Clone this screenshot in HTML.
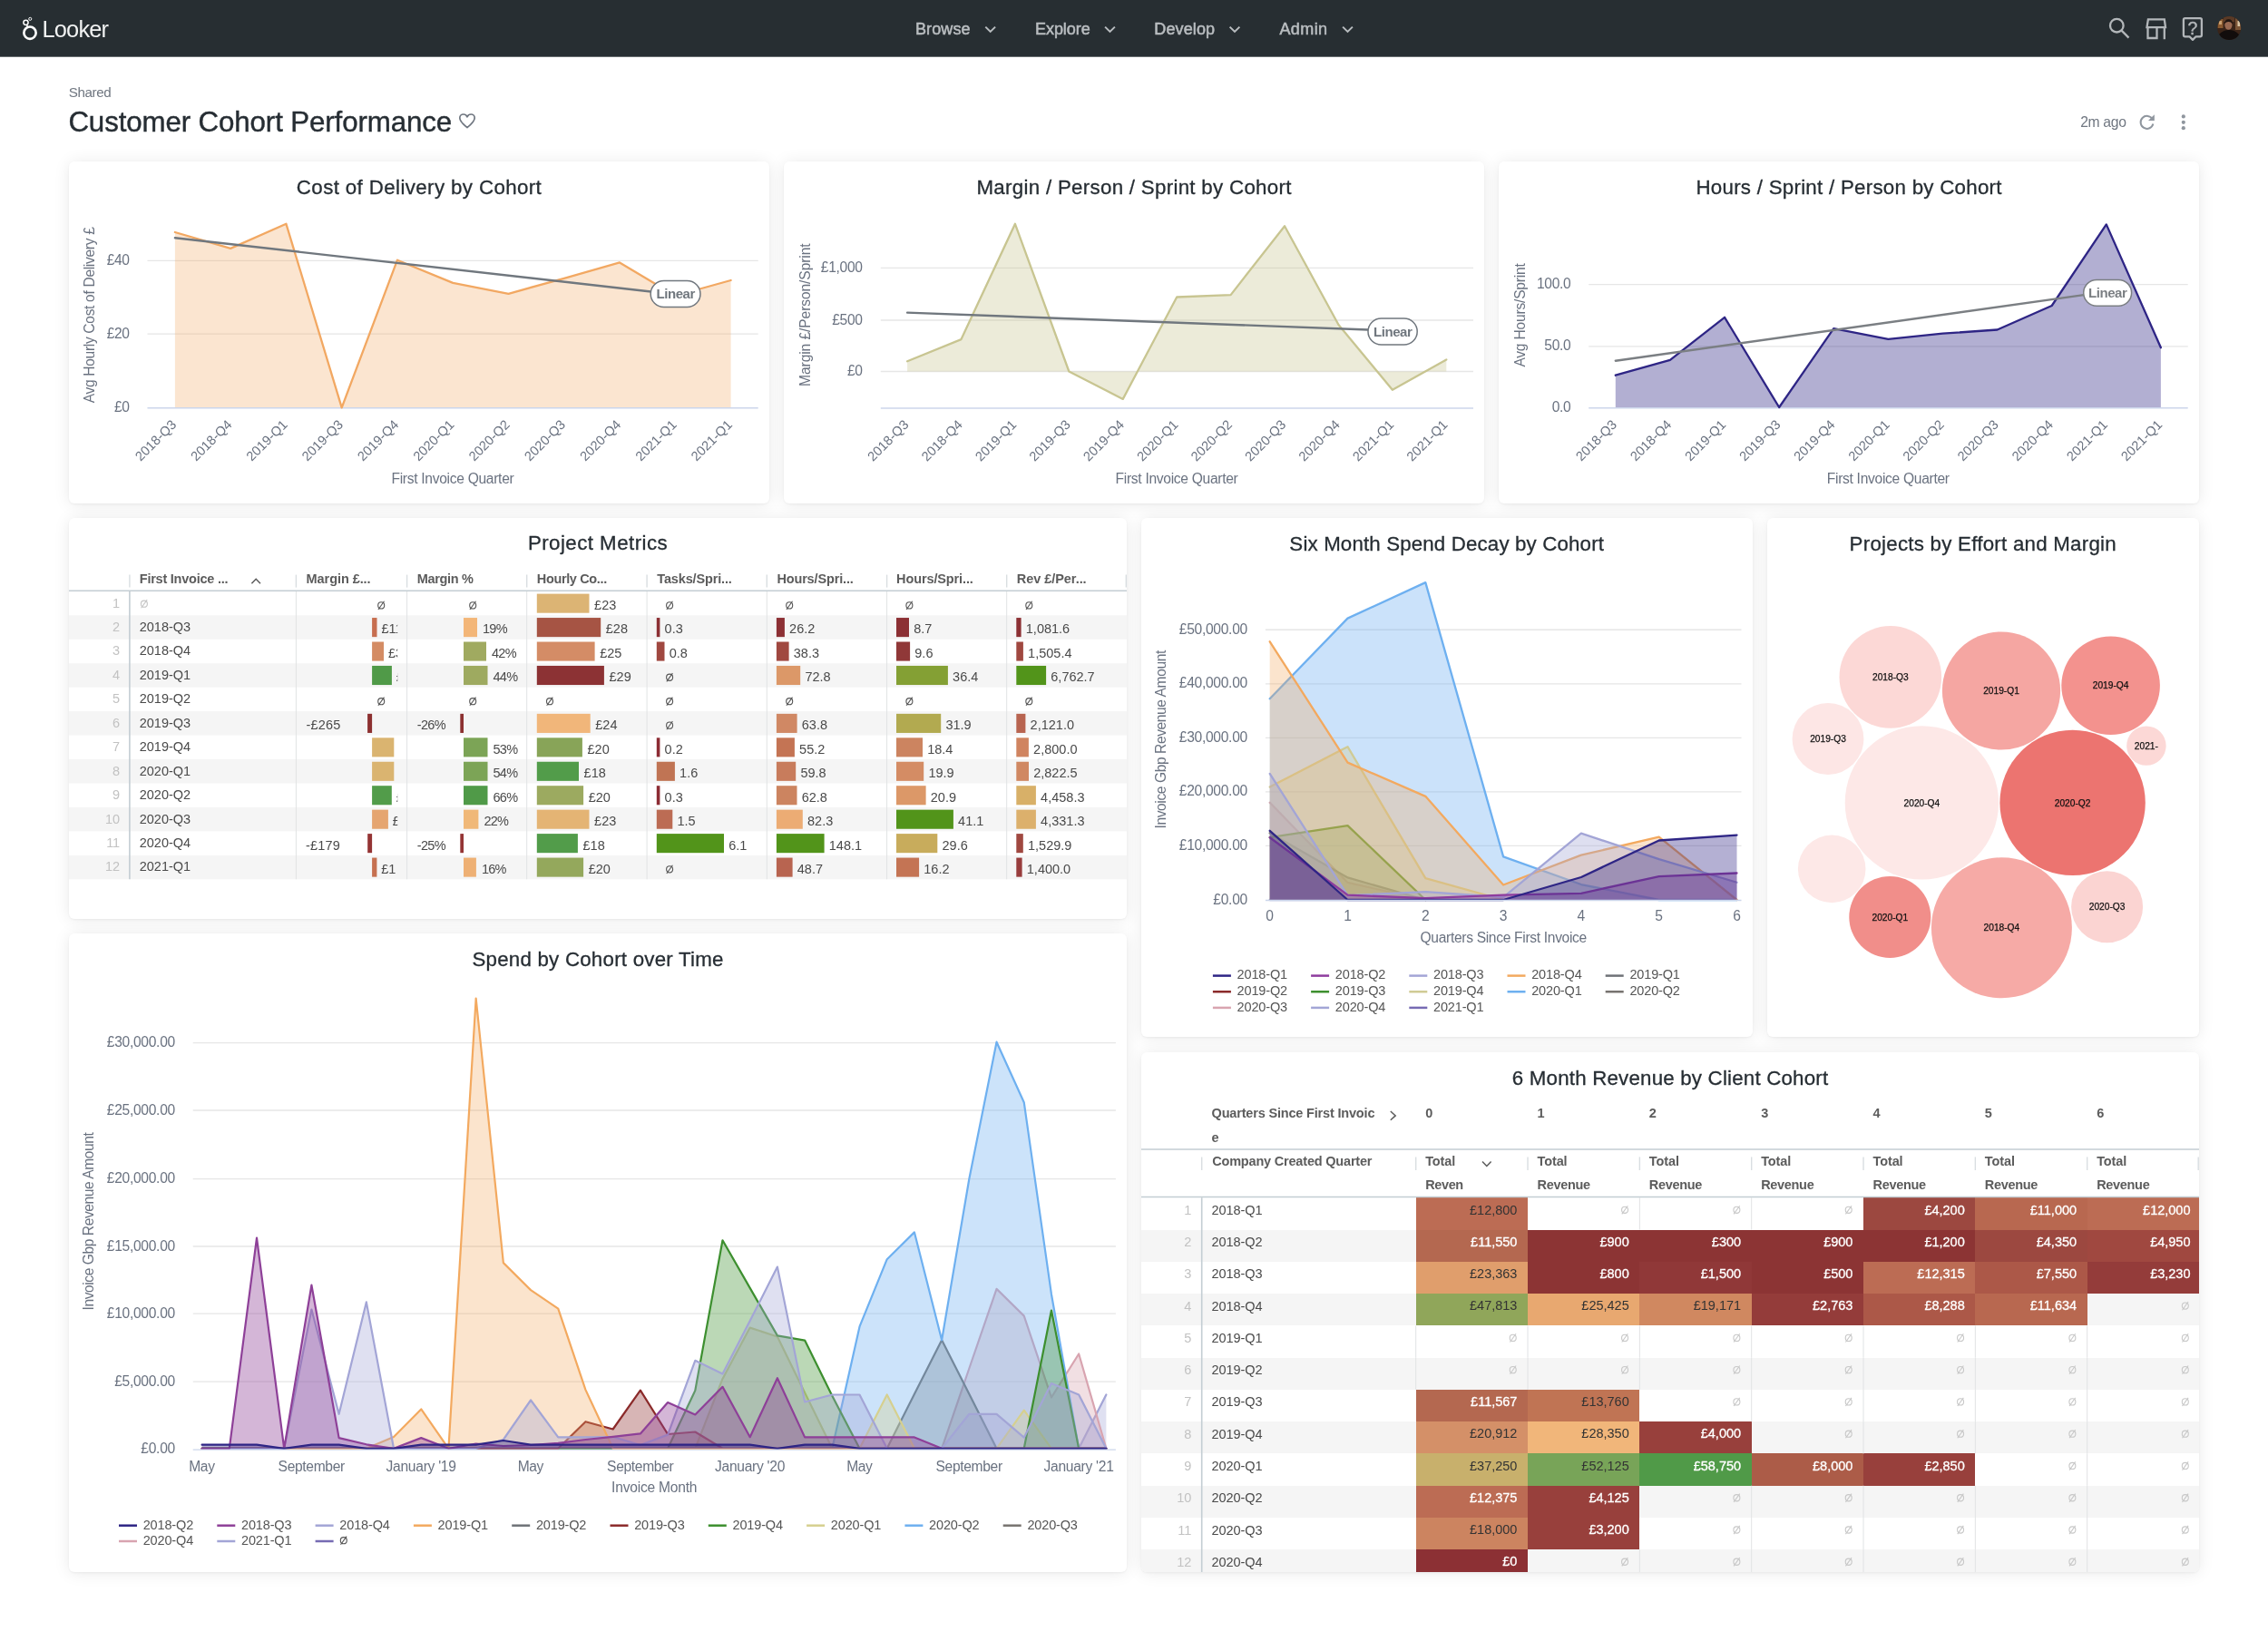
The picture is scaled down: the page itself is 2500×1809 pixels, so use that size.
<!DOCTYPE html>
<html lang="en"><head><meta charset="utf-8"><title>Customer Cohort Performance</title>
<style>
*{box-sizing:border-box}
html,body{margin:0;padding:0}
body{width:2500px;height:1809px;background:#fff;font-family:"Liberation Sans",sans-serif;position:relative;overflow:hidden;color:#4a4a4a}
svg text{font-family:"Liberation Sans",sans-serif}
.nav{position:absolute;left:0;top:0;width:2500px;height:64px}
.nav svg{position:absolute;left:0;top:0}
.hdr{position:absolute;left:0;top:62px;width:2500px;height:115px}
.hdr svg{position:absolute;left:0;top:0}
.card{position:absolute;background:#fff;border-radius:6px;box-shadow:0 1px 18px rgba(0,0,0,.085),0 1px 3px rgba(0,0,0,.06);overflow:hidden}
.cv{position:absolute;left:0;top:0;display:block}
svg{will-change:transform}
.abs{position:absolute}
</style></head>
<body>
<header class="nav"><svg width="2500" height="64" viewBox="0 0 2500 64"><rect x="0" y="0" width="2500" height="62.7" fill="#272e32"/><g fill="none" stroke="#fff"><circle cx="33" cy="36.2" r="6.65" stroke-width="2.6"/><circle cx="28.5" cy="24.8" r="2.6" stroke-width="1.5"/><circle cx="33.25" cy="20.85" r="1.55" stroke-width="0.95"/><path d="M29.5 27.3 L30.7 30.2" stroke-width="1.5"/></g><text x="46.4" y="40.6" font-size="25.4" fill="#f1f2f2" letter-spacing="-0.79">Looker</text><text x="1009" y="38" font-size="18" fill="#b9bdc0" letter-spacing="0.11" stroke="#b9bdc0" stroke-width="0.55">Browse</text><polyline points="1086.3,29.6 1091.7,34.9 1097.1,29.6" fill="none" stroke="#b9bdc0" stroke-width="2"/><text x="1141" y="38" font-size="18" fill="#b9bdc0" letter-spacing="-0.06" stroke="#b9bdc0" stroke-width="0.55">Explore</text><polyline points="1218.1,29.6 1223.5,34.9 1228.9,29.6" fill="none" stroke="#b9bdc0" stroke-width="2"/><text x="1272.3" y="38" font-size="18" fill="#b9bdc0" letter-spacing="0.12" stroke="#b9bdc0" stroke-width="0.55">Develop</text><polyline points="1355.6,29.6 1361,34.9 1366.4,29.6" fill="none" stroke="#b9bdc0" stroke-width="2"/><text x="1410.4" y="38" font-size="18" fill="#b9bdc0" letter-spacing="0.42" stroke="#b9bdc0" stroke-width="0.55">Admin</text><polyline points="1480.1,29.6 1485.5,34.9 1490.9,29.6" fill="none" stroke="#b9bdc0" stroke-width="2"/><g fill="none" stroke="#b3b7ba" stroke-width="2.3"><circle cx="2333.3" cy="28.2" r="7.3"/><path d="M2338.6 33.6 L2346.5 41.6"/><path d="M2367.9 21.3 H2385.8 L2387 30.1 H2366.5 Z"/><path d="M2367.5 31 V42 H2377.5 V31 M2385.8 31 V43.2"/><path d="M2408.6 20.2 H2425.2 Q2426.9 20.2 2426.9 21.9 V38.6 Q2426.9 40.3 2425.2 40.3 H2420.6 L2417 43.9 L2413.4 40.3 H2408.6 Q2406.9 40.3 2406.9 38.6 V21.9 Q2406.9 20.2 2408.6 20.2 Z" stroke-linejoin="round"/></g><text x="2417" y="37.7" font-size="19.5" fill="#b3b7ba" text-anchor="middle" stroke="#b3b7ba" stroke-width="0.35">?</text><defs><clipPath id="avc"><circle cx="2457.2" cy="31" r="13"/></clipPath></defs><g clip-path="url(#avc)"><rect x="2444" y="18" width="27" height="27" fill="#3a2418"/><rect x="2444.5" y="21" width="6" height="10" fill="#8a5a30"/><rect x="2464" y="20" width="7" height="13" fill="#7a5436"/><rect x="2446" y="23" width="3" height="4" fill="#c9a070"/><rect x="2466.5" y="23" width="2.6" height="6" fill="#d8c4a4"/><rect x="2451" y="18" width="12" height="6" fill="#5a3a26"/><ellipse cx="2457" cy="43.5" rx="12.5" ry="10.5" fill="#120d0c"/><ellipse cx="2456.4" cy="27.6" rx="4.1" ry="5.2" fill="#9a6a52"/><path d="M2452.2 26 Q2452.4 21 2456.6 21.2 Q2461 21.2 2460.8 26.4 Q2459 23.8 2456.6 24 Q2454 23.8 2452.2 26Z" fill="#1e1410"/></g></svg></header>
<div class="hdr"><svg width="2500" height="115" viewBox="0 62 2500 115"><text x="75.8" y="107" font-size="15.2" fill="#707781" letter-spacing="-0.4">Shared</text><text x="75.4" y="144.9" font-size="31.3" fill="#262d33" letter-spacing="-0.13" stroke="#262d33" stroke-width="0.4">Customer Cohort Performance</text><path d="M515 140.6 C509 135.8 506.8 133 506.8 130 C506.8 127.6 508.6 126 510.8 126 C512.6 126 514.2 127 515 128.8 C515.8 127 517.4 126 519.2 126 C521.4 126 523.2 127.6 523.2 130 C523.2 133 521 135.8 515 140.6 Z" fill="none" stroke="#707781" stroke-width="1.7" stroke-linejoin="round"/><text x="2293.2" y="139.8" font-size="15.7" fill="#707781" letter-spacing="-0.33">2m ago</text><path d="M2372.6 131.2 A7 7 0 1 0 2373.4 136.6" fill="none" stroke="#8f969e" stroke-width="2"/><path d="M2374.8 126.2 V133 H2368 Z" fill="#8f969e"/><circle cx="2406.8" cy="128.4" r="2.1" fill="#8f969e"/><circle cx="2406.8" cy="134.8" r="2.1" fill="#8f969e"/><circle cx="2406.8" cy="141.2" r="2.1" fill="#8f969e"/></svg></div>
<section class="card " style="left:75.5px;top:177.5px;width:772.5px;height:377.5px"><svg class="cv" style="left:-0.5px;top:-0.5px" width="773" height="378" viewBox="75 177 773 378"><text x="462.04" y="213.8" font-size="22.3" fill="#262d33" text-anchor="middle" letter-spacing="0.39" stroke="#262d33" stroke-width="0.3">Cost of Delivery by Cohort</text><line x1="162.5" x2="835.7" y1="287.3" y2="287.3" stroke="#e6e6e6" stroke-width="1.3"/><line x1="162.5" x2="835.7" y1="368.2" y2="368.2" stroke="#e6e6e6" stroke-width="1.3"/><polygon points="192.9,449.8 192.9,256 254.17,273.9 315.44,246.8 376.71,449.3 437.98,286.7 499.25,311.9 560.52,323.8 621.79,306.8 683.06,289.4 744.33,326 805.6,309 805.6,449.8" fill="#f2a862" fill-opacity="0.3"/><line x1="162.5" x2="835.7" y1="449.8" y2="449.8" stroke="#ccd6eb" stroke-width="1.5"/><polyline points="192.9,256 254.17,273.9 315.44,246.8 376.71,449.3 437.98,286.7 499.25,311.9 560.52,323.8 621.79,306.8 683.06,289.4 744.33,326 805.6,309" fill="none" stroke="#f2a862" stroke-width="2.3" stroke-linejoin="round" stroke-linecap="round"/><line x1="192.9" y1="262.2" x2="717.5" y2="321.5" stroke="#70777e" stroke-width="2.4" stroke-linecap="round"/><rect x="717.2" y="309.4" width="54.8" height="29.2" rx="14.6" fill="#fff" stroke="#70777e" stroke-width="1.5"/><text x="744.68" y="329.4" font-size="15" fill="#70777e" text-anchor="middle" font-weight="bold" letter-spacing="-0.44">Linear</text><text x="142.67" y="291.9" font-size="15.6" fill="#6a7280" text-anchor="end" letter-spacing="-0.33">£40</text><text x="142.67" y="372.8" font-size="15.6" fill="#6a7280" text-anchor="end" letter-spacing="-0.33">£20</text><text x="142.67" y="454.4" font-size="15.6" fill="#6a7280" text-anchor="end" letter-spacing="-0.33">£0</text><text x="103.63" y="347.4" font-size="15.6" fill="#6a7280" text-anchor="middle" letter-spacing="-0.33" transform="rotate(-90 103.63 347.4)">Avg Hourly Cost of Delivery £</text><text x="195.2" y="468.9" font-size="14.6" fill="#6a7280" text-anchor="end" transform="rotate(-45 195.2 468.9)">2018-Q3</text><text x="256.47" y="468.9" font-size="14.6" fill="#6a7280" text-anchor="end" transform="rotate(-45 256.47 468.9)">2018-Q4</text><text x="317.74" y="468.9" font-size="14.6" fill="#6a7280" text-anchor="end" transform="rotate(-45 317.74 468.9)">2019-Q1</text><text x="379.01" y="468.9" font-size="14.6" fill="#6a7280" text-anchor="end" transform="rotate(-45 379.01 468.9)">2019-Q3</text><text x="440.28" y="468.9" font-size="14.6" fill="#6a7280" text-anchor="end" transform="rotate(-45 440.28 468.9)">2019-Q4</text><text x="501.55" y="468.9" font-size="14.6" fill="#6a7280" text-anchor="end" transform="rotate(-45 501.55 468.9)">2020-Q1</text><text x="562.82" y="468.9" font-size="14.6" fill="#6a7280" text-anchor="end" transform="rotate(-45 562.82 468.9)">2020-Q2</text><text x="624.09" y="468.9" font-size="14.6" fill="#6a7280" text-anchor="end" transform="rotate(-45 624.09 468.9)">2020-Q3</text><text x="685.36" y="468.9" font-size="14.6" fill="#6a7280" text-anchor="end" transform="rotate(-45 685.36 468.9)">2020-Q4</text><text x="746.63" y="468.9" font-size="14.6" fill="#6a7280" text-anchor="end" transform="rotate(-45 746.63 468.9)">2021-Q1</text><text x="807.9" y="468.9" font-size="14.6" fill="#6a7280" text-anchor="end" transform="rotate(-45 807.9 468.9)">2021-Q1</text><text x="498.95" y="532.6" font-size="15.6" fill="#6a7280" text-anchor="middle" letter-spacing="-0.3">First Invoice Quarter</text></svg></section>
<section class="card " style="left:863.5px;top:177.5px;width:772.5px;height:377.5px"><svg class="cv" style="left:-0.5px;top:-0.5px" width="773" height="378" viewBox="863 177 773 378"><text x="1250.1" y="213.8" font-size="22.3" fill="#262d33" text-anchor="middle" letter-spacing="0.3" stroke="#262d33" stroke-width="0.3">Margin / Person / Sprint by Cohort</text><line x1="970.8" x2="1624" y1="295.3" y2="295.3" stroke="#e6e6e6" stroke-width="1.3"/><line x1="970.8" x2="1624" y1="353" y2="353" stroke="#e6e6e6" stroke-width="1.3"/><line x1="970.8" x2="1624" y1="409.5" y2="409.5" stroke="#e6e6e6" stroke-width="1.3"/><polygon points="1000.1,409.5 1000.1,398.2 1059.52,374.1 1118.94,246.8 1178.36,409.5 1237.78,439.9 1297.2,327.5 1356.62,325.1 1416.04,249.2 1475.46,358 1534.88,429.8 1594.3,396.4 1594.3,409.5" fill="#c8c591" fill-opacity="0.34"/><line x1="970.8" x2="1624" y1="450" y2="450" stroke="#ccd6eb" stroke-width="1.5"/><polyline points="1000.1,398.2 1059.52,374.1 1118.94,246.8 1178.36,409.5 1237.78,439.9 1297.2,327.5 1356.62,325.1 1416.04,249.2 1475.46,358 1534.88,429.8 1594.3,396.4" fill="none" stroke="#c8c591" stroke-width="2.3" stroke-linejoin="round" stroke-linecap="round"/><line x1="1000.1" y1="344.6" x2="1508" y2="363.5" stroke="#70777e" stroke-width="2.4" stroke-linecap="round"/><rect x="1508" y="351" width="54.2" height="29.1" rx="14.55" fill="#fff" stroke="#70777e" stroke-width="1.5"/><text x="1535.18" y="370.95" font-size="15" fill="#70777e" text-anchor="middle" font-weight="bold" letter-spacing="-0.44">Linear</text><text x="950.69" y="299.9" font-size="15.6" fill="#6a7280" text-anchor="end" letter-spacing="-0.31">£1,000</text><text x="950.67" y="357.6" font-size="15.6" fill="#6a7280" text-anchor="end" letter-spacing="-0.33">£500</text><text x="950.67" y="414.1" font-size="15.6" fill="#6a7280" text-anchor="end" letter-spacing="-0.33">£0</text><text x="893.26" y="347.2" font-size="15.6" fill="#6a7280" text-anchor="middle" letter-spacing="-0.09" transform="rotate(-90 893.26 347.2)">Margin £/Person/Sprint</text><text x="1002.4" y="469.1" font-size="14.6" fill="#6a7280" text-anchor="end" transform="rotate(-45 1002.4 469.1)">2018-Q3</text><text x="1061.82" y="469.1" font-size="14.6" fill="#6a7280" text-anchor="end" transform="rotate(-45 1061.82 469.1)">2018-Q4</text><text x="1121.24" y="469.1" font-size="14.6" fill="#6a7280" text-anchor="end" transform="rotate(-45 1121.24 469.1)">2019-Q1</text><text x="1180.66" y="469.1" font-size="14.6" fill="#6a7280" text-anchor="end" transform="rotate(-45 1180.66 469.1)">2019-Q3</text><text x="1240.08" y="469.1" font-size="14.6" fill="#6a7280" text-anchor="end" transform="rotate(-45 1240.08 469.1)">2019-Q4</text><text x="1299.5" y="469.1" font-size="14.6" fill="#6a7280" text-anchor="end" transform="rotate(-45 1299.5 469.1)">2020-Q1</text><text x="1358.92" y="469.1" font-size="14.6" fill="#6a7280" text-anchor="end" transform="rotate(-45 1358.92 469.1)">2020-Q2</text><text x="1418.34" y="469.1" font-size="14.6" fill="#6a7280" text-anchor="end" transform="rotate(-45 1418.34 469.1)">2020-Q3</text><text x="1477.76" y="469.1" font-size="14.6" fill="#6a7280" text-anchor="end" transform="rotate(-45 1477.76 469.1)">2020-Q4</text><text x="1537.18" y="469.1" font-size="14.6" fill="#6a7280" text-anchor="end" transform="rotate(-45 1537.18 469.1)">2021-Q1</text><text x="1596.6" y="469.1" font-size="14.6" fill="#6a7280" text-anchor="end" transform="rotate(-45 1596.6 469.1)">2021-Q1</text><text x="1297.05" y="532.6" font-size="15.6" fill="#6a7280" text-anchor="middle" letter-spacing="-0.3">First Invoice Quarter</text></svg></section>
<section class="card " style="left:1651.5px;top:177.5px;width:772.5px;height:377.5px"><svg class="cv" style="left:-0.5px;top:-0.5px" width="773" height="378" viewBox="1651 177 773 378"><text x="2038.08" y="213.8" font-size="22.3" fill="#262d33" text-anchor="middle" letter-spacing="0.27" stroke="#262d33" stroke-width="0.3">Hours / Sprint / Person by Cohort</text><line x1="1751.2" x2="2411.7" y1="313.7" y2="313.7" stroke="#e6e6e6" stroke-width="1.3"/><line x1="1751.2" x2="2411.7" y1="381.8" y2="381.8" stroke="#e6e6e6" stroke-width="1.3"/><polygon points="1780.8,449.8 1780.8,413.7 1840.91,396.9 1901.02,349.8 1961.13,449 2021.24,362.2 2081.35,373.9 2141.46,367.7 2201.57,363.5 2261.68,337 2321.79,247.4 2381.9,383.2 2381.9,449.8" fill="#2e2585" fill-opacity="0.37"/><line x1="1751.2" x2="2411.7" y1="449.8" y2="449.8" stroke="#ccd6eb" stroke-width="1.5"/><polyline points="1780.8,413.7 1840.91,396.9 1901.02,349.8 1961.13,449 2021.24,362.2 2081.35,373.9 2141.46,367.7 2201.57,363.5 2261.68,337 2321.79,247.4 2381.9,383.2" fill="none" stroke="#2e2585" stroke-width="2.3" stroke-linejoin="round" stroke-linecap="round"/><line x1="1780.8" y1="397.7" x2="2297" y2="325.1" stroke="#7b7f83" stroke-width="2.4" stroke-linecap="round"/><rect x="2296.7" y="308.4" width="52.9" height="28.8" rx="14.4" fill="#fff" stroke="#7b7f83" stroke-width="1.5"/><text x="2323.23" y="328.2" font-size="15" fill="#7b7f83" text-anchor="middle" font-weight="bold" letter-spacing="-0.44">Linear</text><text x="1731.5" y="318.3" font-size="15.6" fill="#6a7280" text-anchor="end" letter-spacing="-0.3">100.0</text><text x="1731.51" y="386.4" font-size="15.6" fill="#6a7280" text-anchor="end" letter-spacing="-0.29">50.0</text><text x="1731.52" y="454.4" font-size="15.6" fill="#6a7280" text-anchor="end" letter-spacing="-0.28">0.0</text><text x="1681.2" y="347.5" font-size="15.6" fill="#6a7280" text-anchor="middle" letter-spacing="-0.21" transform="rotate(-90 1681.2 347.5)">Avg Hours/Sprint</text><text x="1783.1" y="468.9" font-size="14.6" fill="#6a7280" text-anchor="end" transform="rotate(-45 1783.1 468.9)">2018-Q3</text><text x="1843.21" y="468.9" font-size="14.6" fill="#6a7280" text-anchor="end" transform="rotate(-45 1843.21 468.9)">2018-Q4</text><text x="1903.32" y="468.9" font-size="14.6" fill="#6a7280" text-anchor="end" transform="rotate(-45 1903.32 468.9)">2019-Q1</text><text x="1963.43" y="468.9" font-size="14.6" fill="#6a7280" text-anchor="end" transform="rotate(-45 1963.43 468.9)">2019-Q3</text><text x="2023.54" y="468.9" font-size="14.6" fill="#6a7280" text-anchor="end" transform="rotate(-45 2023.54 468.9)">2019-Q4</text><text x="2083.65" y="468.9" font-size="14.6" fill="#6a7280" text-anchor="end" transform="rotate(-45 2083.65 468.9)">2020-Q1</text><text x="2143.76" y="468.9" font-size="14.6" fill="#6a7280" text-anchor="end" transform="rotate(-45 2143.76 468.9)">2020-Q2</text><text x="2203.87" y="468.9" font-size="14.6" fill="#6a7280" text-anchor="end" transform="rotate(-45 2203.87 468.9)">2020-Q3</text><text x="2263.98" y="468.9" font-size="14.6" fill="#6a7280" text-anchor="end" transform="rotate(-45 2263.98 468.9)">2020-Q4</text><text x="2324.09" y="468.9" font-size="14.6" fill="#6a7280" text-anchor="end" transform="rotate(-45 2324.09 468.9)">2021-Q1</text><text x="2384.2" y="468.9" font-size="14.6" fill="#6a7280" text-anchor="end" transform="rotate(-45 2384.2 468.9)">2021-Q1</text><text x="2081.25" y="532.6" font-size="15.6" fill="#6a7280" text-anchor="middle" letter-spacing="-0.3">First Invoice Quarter</text></svg></section>
<section class="card " style="left:75.5px;top:570.5px;width:1166.5px;height:442.5px"><svg class="cv" style="left:-0.5px;top:-0.5px" width="1167" height="443" viewBox="75 570 1167 443"><text x="659.02" y="606.3" font-size="22.3" fill="#262d33" text-anchor="middle" letter-spacing="0.45" stroke="#262d33" stroke-width="0.3">Project Metrics</text><rect x="75.5" y="678.35" width="1166.5" height="26.45" fill="#f5f5f5"/><rect x="75.5" y="731.25" width="1166.5" height="26.45" fill="#f5f5f5"/><rect x="75.5" y="784.15" width="1166.5" height="26.45" fill="#f5f5f5"/><rect x="75.5" y="837.05" width="1166.5" height="26.45" fill="#f5f5f5"/><rect x="75.5" y="889.95" width="1166.5" height="26.45" fill="#f5f5f5"/><rect x="75.5" y="942.85" width="1166.5" height="26.45" fill="#f5f5f5"/><line x1="326.4" x2="326.4" y1="651.9" y2="969.3" stroke="#e1e3e4" stroke-width="1"/><line x1="448.6" x2="448.6" y1="651.9" y2="969.3" stroke="#e1e3e4" stroke-width="1"/><line x1="580.7" x2="580.7" y1="651.9" y2="969.3" stroke="#e1e3e4" stroke-width="1"/><line x1="713.1" x2="713.1" y1="651.9" y2="969.3" stroke="#e1e3e4" stroke-width="1"/><line x1="845.3" x2="845.3" y1="651.9" y2="969.3" stroke="#e1e3e4" stroke-width="1"/><line x1="977.6" x2="977.6" y1="651.9" y2="969.3" stroke="#e1e3e4" stroke-width="1"/><line x1="1109.7" x2="1109.7" y1="651.9" y2="969.3" stroke="#e1e3e4" stroke-width="1"/><line x1="142.9" x2="142.9" y1="651.9" y2="969.3" stroke="#c3cdd3" stroke-width="1.6"/><line x1="142.9" x2="142.9" y1="633.6" y2="647.6" stroke="#d9dee1" stroke-width="1.4"/><line x1="326.4" x2="326.4" y1="633.6" y2="647.6" stroke="#d9dee1" stroke-width="1.4"/><line x1="448.6" x2="448.6" y1="633.6" y2="647.6" stroke="#d9dee1" stroke-width="1.4"/><line x1="580.7" x2="580.7" y1="633.6" y2="647.6" stroke="#d9dee1" stroke-width="1.4"/><line x1="713.1" x2="713.1" y1="633.6" y2="647.6" stroke="#d9dee1" stroke-width="1.4"/><line x1="845.3" x2="845.3" y1="633.6" y2="647.6" stroke="#d9dee1" stroke-width="1.4"/><line x1="977.6" x2="977.6" y1="633.6" y2="647.6" stroke="#d9dee1" stroke-width="1.4"/><line x1="1109.7" x2="1109.7" y1="633.6" y2="647.6" stroke="#d9dee1" stroke-width="1.4"/><line x1="1241.3" x2="1241.3" y1="633.6" y2="647.6" stroke="#d9dee1" stroke-width="1.4"/><line x1="75.5" x2="1242" y1="651.3" y2="651.3" stroke="#c3cdd3" stroke-width="1.5"/><text x="153.8" y="642.7" font-size="14.5" fill="#5c5c5c" font-weight="bold" letter-spacing="-0.24">First Invoice ...</text><text x="337.6" y="642.7" font-size="14.5" fill="#5c5c5c" font-weight="bold" letter-spacing="-0.07">Margin £...</text><text x="459.7" y="642.7" font-size="14.5" fill="#5c5c5c" font-weight="bold" letter-spacing="-0.32">Margin %</text><text x="591.8" y="642.7" font-size="14.5" fill="#5c5c5c" font-weight="bold" letter-spacing="-0.36">Hourly Co...</text><text x="724.3" y="642.7" font-size="14.5" fill="#5c5c5c" font-weight="bold" letter-spacing="-0.15">Tasks/Spri...</text><text x="856.4" y="642.7" font-size="14.5" fill="#5c5c5c" font-weight="bold" letter-spacing="-0.15">Hours/Spri...</text><text x="988.1" y="642.7" font-size="14.5" fill="#5c5c5c" font-weight="bold" letter-spacing="-0.12">Hours/Spri...</text><text x="1120.8" y="642.7" font-size="14.5" fill="#5c5c5c" font-weight="bold" letter-spacing="-0.05">Rev £/Per...</text><polyline points="277.4,643.2 282.2,638.3 287,643.2" fill="none" stroke="#5c5c5c" stroke-width="1.5"/><defs><clipPath id="pmclip"><rect x="326.9" y="640" width="111.3" height="340"/></clipPath></defs><text x="132.2" y="669.5" font-size="14.5" fill="#c2c2c2" text-anchor="end">1</text><g stroke="#c6c6c6" stroke-width="1.1" fill="none"><ellipse cx="158.9" cy="665.7" rx="3.5" ry="3.6"/><line x1="155.6" y1="670.3" x2="162.2" y2="661.1"/></g><text x="132.2" y="695.95" font-size="14.5" fill="#c2c2c2" text-anchor="end">2</text><text x="153.8" y="695.95" font-size="14.5" fill="#4a4a4a" letter-spacing="-0.03">2018-Q3</text><text x="132.2" y="722.4" font-size="14.5" fill="#c2c2c2" text-anchor="end">3</text><text x="153.8" y="722.4" font-size="14.5" fill="#4a4a4a" letter-spacing="-0.03">2018-Q4</text><text x="132.2" y="748.85" font-size="14.5" fill="#c2c2c2" text-anchor="end">4</text><text x="153.8" y="748.85" font-size="14.5" fill="#4a4a4a" letter-spacing="-0.03">2019-Q1</text><text x="132.2" y="775.3" font-size="14.5" fill="#c2c2c2" text-anchor="end">5</text><text x="153.8" y="775.3" font-size="14.5" fill="#4a4a4a" letter-spacing="-0.03">2019-Q2</text><text x="132.2" y="801.75" font-size="14.5" fill="#c2c2c2" text-anchor="end">6</text><text x="153.8" y="801.75" font-size="14.5" fill="#4a4a4a" letter-spacing="-0.03">2019-Q3</text><text x="132.2" y="828.2" font-size="14.5" fill="#c2c2c2" text-anchor="end">7</text><text x="153.8" y="828.2" font-size="14.5" fill="#4a4a4a" letter-spacing="-0.03">2019-Q4</text><text x="132.2" y="854.65" font-size="14.5" fill="#c2c2c2" text-anchor="end">8</text><text x="153.8" y="854.65" font-size="14.5" fill="#4a4a4a" letter-spacing="-0.03">2020-Q1</text><text x="132.2" y="881.1" font-size="14.5" fill="#c2c2c2" text-anchor="end">9</text><text x="153.8" y="881.1" font-size="14.5" fill="#4a4a4a" letter-spacing="-0.03">2020-Q2</text><text x="132.2" y="907.55" font-size="14.5" fill="#c2c2c2" text-anchor="end">10</text><text x="153.8" y="907.55" font-size="14.5" fill="#4a4a4a" letter-spacing="-0.03">2020-Q3</text><text x="132.2" y="934" font-size="14.5" fill="#c2c2c2" text-anchor="end">11</text><text x="153.8" y="934" font-size="14.5" fill="#4a4a4a" letter-spacing="-0.03">2020-Q4</text><text x="132.2" y="960.45" font-size="14.5" fill="#c2c2c2" text-anchor="end">12</text><text x="153.8" y="960.45" font-size="14.5" fill="#4a4a4a" letter-spacing="-0.03">2021-Q1</text><g clip-path="url(#pmclip)"><g stroke="#555" stroke-width="1.1" fill="none"><ellipse cx="420.2" cy="667.4" rx="3.5" ry="3.6"/><line x1="416.9" y1="672" x2="423.5" y2="662.8"/></g><rect x="410.1" y="681.05" width="5.4" height="21.1" fill="#c76e50"/><text x="420.4" y="698.45" font-size="14.5" fill="#4a4a4a">£113</text><rect x="410.1" y="707.5" width="12.9" height="21.1" fill="#d48c64"/><text x="427.9" y="724.9" font-size="14.5" fill="#4a4a4a">£310</text><rect x="410.1" y="733.95" width="21.8" height="21.1" fill="#509a48"/><text x="436.8" y="751.35" font-size="14.5" fill="#4a4a4a">£765</text><g stroke="#555" stroke-width="1.1" fill="none"><ellipse cx="420.2" cy="773.2" rx="3.5" ry="3.6"/><line x1="416.9" y1="777.8" x2="423.5" y2="768.6"/></g><rect x="405.1" y="786.85" width="5" height="21.1" fill="#8c3030"/><text x="337.6" y="804.25" font-size="14.5" fill="#4a4a4a" letter-spacing="0.18">-£265</text><rect x="410.1" y="813.3" width="24.2" height="21.1" fill="#dab470"/><text x="439.2" y="830.7" font-size="14.5" fill="#4a4a4a">£841</text><rect x="410.1" y="839.75" width="24.2" height="21.1" fill="#dab470"/><text x="439.2" y="857.15" font-size="14.5" fill="#4a4a4a">£852</text><rect x="410.1" y="866.2" width="21.7" height="21.1" fill="#529c4a"/><text x="436.7" y="883.6" font-size="14.5" fill="#4a4a4a">£755</text><rect x="410.1" y="892.65" width="17.8" height="21.1" fill="#e5a570"/><text x="432.8" y="910.05" font-size="14.5" fill="#4a4a4a">£620</text><rect x="405.2" y="919.1" width="4.9" height="21.1" fill="#943434"/><text x="337.1" y="936.5" font-size="14.5" fill="#4a4a4a" letter-spacing="0.18">-£179</text><rect x="410.1" y="945.55" width="5.3" height="21.1" fill="#c67050"/><text x="420.3" y="962.95" font-size="14.5" fill="#4a4a4a">£1 </text></g><g stroke="#555" stroke-width="1.1" fill="none"><ellipse cx="521.2" cy="667.4" rx="3.5" ry="3.6"/><line x1="517.9" y1="672" x2="524.5" y2="662.8"/></g><rect x="511" y="681.05" width="15" height="21.1" fill="#f3b678"/><text x="532" y="698.45" font-size="14.5" fill="#4a4a4a" letter-spacing="-0.74">19%</text><rect x="511" y="707.5" width="25" height="21.1" fill="#a0aa60"/><text x="542" y="724.9" font-size="14.5" fill="#4a4a4a" letter-spacing="-0.74">42%</text><rect x="511" y="733.95" width="26.5" height="21.1" fill="#9eaa60"/><text x="543.5" y="751.35" font-size="14.5" fill="#4a4a4a" letter-spacing="-0.74">44%</text><g stroke="#555" stroke-width="1.1" fill="none"><ellipse cx="521.2" cy="773.2" rx="3.5" ry="3.6"/><line x1="517.9" y1="777.8" x2="524.5" y2="768.6"/></g><rect x="507.3" y="786.85" width="3.7" height="21.1" fill="#8c3030"/><text x="459.7" y="804.25" font-size="14.5" fill="#4a4a4a" letter-spacing="-0.61">-26%</text><rect x="511" y="813.3" width="26.5" height="21.1" fill="#7ca456"/><text x="543.5" y="830.7" font-size="14.5" fill="#4a4a4a" letter-spacing="-0.74">53%</text><rect x="511" y="839.75" width="26.5" height="21.1" fill="#7ca456"/><text x="543.5" y="857.15" font-size="14.5" fill="#4a4a4a" letter-spacing="-0.74">54%</text><rect x="511" y="866.2" width="26.5" height="21.1" fill="#509a48"/><text x="543.5" y="883.6" font-size="14.5" fill="#4a4a4a" letter-spacing="-0.74">66%</text><rect x="511" y="892.65" width="16.4" height="21.1" fill="#f0b878"/><text x="533.4" y="910.05" font-size="14.5" fill="#4a4a4a" letter-spacing="-0.74">22%</text><rect x="507.3" y="919.1" width="3.7" height="21.1" fill="#943434"/><text x="459.7" y="936.5" font-size="14.5" fill="#4a4a4a" letter-spacing="-0.61">-25%</text><rect x="511" y="945.55" width="13.9" height="21.1" fill="#eeb074"/><text x="530.9" y="962.95" font-size="14.5" fill="#4a4a4a" letter-spacing="-0.74">16%</text><rect x="591.8" y="654.6" width="57.7" height="21.1" fill="#dcb474"/><text x="655.1" y="672" font-size="14.5" fill="#4a4a4a">£23</text><rect x="591.8" y="681.05" width="70.4" height="21.1" fill="#a65444"/><text x="667.8" y="698.45" font-size="14.5" fill="#4a4a4a">£28</text><rect x="591.8" y="707.5" width="63.8" height="21.1" fill="#d48c66"/><text x="661.2" y="724.9" font-size="14.5" fill="#4a4a4a">£25</text><rect x="591.8" y="733.95" width="74.1" height="21.1" fill="#8c3234"/><text x="671.5" y="751.35" font-size="14.5" fill="#4a4a4a">£29</text><g stroke="#555" stroke-width="1.1" fill="none"><ellipse cx="606" cy="773.2" rx="3.5" ry="3.6"/><line x1="602.7" y1="777.8" x2="609.3" y2="768.6"/></g><rect x="591.8" y="786.85" width="58.9" height="21.1" fill="#f1b67a"/><text x="656.3" y="804.25" font-size="14.5" fill="#4a4a4a">£24</text><rect x="591.8" y="813.3" width="50.1" height="21.1" fill="#88a458"/><text x="647.5" y="830.7" font-size="14.5" fill="#4a4a4a">£20</text><rect x="591.8" y="839.75" width="46.2" height="21.1" fill="#529c4a"/><text x="643.6" y="857.15" font-size="14.5" fill="#4a4a4a">£18</text><rect x="591.8" y="866.2" width="51.3" height="21.1" fill="#9caa60"/><text x="648.7" y="883.6" font-size="14.5" fill="#4a4a4a">£20</text><rect x="591.8" y="892.65" width="57.7" height="21.1" fill="#e4b474"/><text x="655.1" y="910.05" font-size="14.5" fill="#4a4a4a">£23</text><rect x="591.8" y="919.1" width="45.1" height="21.1" fill="#529c4a"/><text x="642.5" y="936.5" font-size="14.5" fill="#4a4a4a">£18</text><rect x="591.8" y="945.55" width="51.3" height="21.1" fill="#94a85c"/><text x="648.7" y="962.95" font-size="14.5" fill="#4a4a4a">£20</text><g stroke="#555" stroke-width="1.1" fill="none"><ellipse cx="738.1" cy="667.4" rx="3.5" ry="3.6"/><line x1="734.8" y1="672" x2="741.4" y2="662.8"/></g><rect x="723.8" y="681.05" width="3.6" height="21.1" fill="#8c3034"/><text x="732.6" y="698.45" font-size="14.5" fill="#4a4a4a">0.3</text><rect x="723.8" y="707.5" width="8.7" height="21.1" fill="#a04840"/><text x="737.7" y="724.9" font-size="14.5" fill="#4a4a4a">0.8</text><g stroke="#555" stroke-width="1.1" fill="none"><ellipse cx="738.1" cy="746.75" rx="3.5" ry="3.6"/><line x1="734.8" y1="751.35" x2="741.4" y2="742.15"/></g><g stroke="#555" stroke-width="1.1" fill="none"><ellipse cx="738.1" cy="773.2" rx="3.5" ry="3.6"/><line x1="734.8" y1="777.8" x2="741.4" y2="768.6"/></g><g stroke="#555" stroke-width="1.1" fill="none"><ellipse cx="738.1" cy="799.65" rx="3.5" ry="3.6"/><line x1="734.8" y1="804.25" x2="741.4" y2="795.05"/></g><rect x="723.8" y="813.3" width="3.6" height="21.1" fill="#8c2c34"/><text x="732.6" y="830.7" font-size="14.5" fill="#4a4a4a">0.2</text><rect x="723.8" y="839.75" width="20.1" height="21.1" fill="#c07454"/><text x="749.1" y="857.15" font-size="14.5" fill="#4a4a4a">1.6</text><rect x="723.8" y="866.2" width="3.6" height="21.1" fill="#8c2c34"/><text x="732.6" y="883.6" font-size="14.5" fill="#4a4a4a">0.3</text><rect x="723.8" y="892.65" width="17.5" height="21.1" fill="#bc6c54"/><text x="746.5" y="910.05" font-size="14.5" fill="#4a4a4a">1.5</text><rect x="723.8" y="919.1" width="74.2" height="21.1" fill="#52941a"/><text x="803.2" y="936.5" font-size="14.5" fill="#4a4a4a">6.1</text><g stroke="#555" stroke-width="1.1" fill="none"><ellipse cx="738.1" cy="958.35" rx="3.5" ry="3.6"/><line x1="734.8" y1="962.95" x2="741.4" y2="953.75"/></g><g stroke="#555" stroke-width="1.1" fill="none"><ellipse cx="870.2" cy="667.4" rx="3.5" ry="3.6"/><line x1="866.9" y1="672" x2="873.5" y2="662.8"/></g><rect x="855.9" y="681.05" width="9" height="21.1" fill="#8c3034"/><text x="870.1" y="698.45" font-size="14.5" fill="#4a4a4a">26.2</text><rect x="855.9" y="707.5" width="13.7" height="21.1" fill="#a04840"/><text x="874.8" y="724.9" font-size="14.5" fill="#4a4a4a">38.3</text><rect x="855.9" y="733.95" width="26.3" height="21.1" fill="#dc9868"/><text x="887.4" y="751.35" font-size="14.5" fill="#4a4a4a">72.8</text><g stroke="#555" stroke-width="1.1" fill="none"><ellipse cx="870.2" cy="773.2" rx="3.5" ry="3.6"/><line x1="866.9" y1="777.8" x2="873.5" y2="768.6"/></g><rect x="855.9" y="786.85" width="22.7" height="21.1" fill="#d08864"/><text x="883.8" y="804.25" font-size="14.5" fill="#4a4a4a">63.8</text><rect x="855.9" y="813.3" width="20" height="21.1" fill="#c47454"/><text x="881.1" y="830.7" font-size="14.5" fill="#4a4a4a">55.2</text><rect x="855.9" y="839.75" width="21.3" height="21.1" fill="#c87c5c"/><text x="882.4" y="857.15" font-size="14.5" fill="#4a4a4a">59.8</text><rect x="855.9" y="866.2" width="22.6" height="21.1" fill="#cc8460"/><text x="883.7" y="883.6" font-size="14.5" fill="#4a4a4a">62.8</text><rect x="855.9" y="892.65" width="28.9" height="21.1" fill="#ecac74"/><text x="890" y="910.05" font-size="14.5" fill="#4a4a4a">82.3</text><rect x="855.9" y="919.1" width="52.7" height="21.1" fill="#52941a"/><text x="913.8" y="936.5" font-size="14.5" fill="#4a4a4a">148.1</text><rect x="855.9" y="945.55" width="17.7" height="21.1" fill="#b86450"/><text x="878.8" y="962.95" font-size="14.5" fill="#4a4a4a">48.7</text><g stroke="#555" stroke-width="1.1" fill="none"><ellipse cx="1002.4" cy="667.4" rx="3.5" ry="3.6"/><line x1="999.1" y1="672" x2="1005.7" y2="662.8"/></g><rect x="988" y="681.05" width="14" height="21.1" fill="#8c3034"/><text x="1007.2" y="698.45" font-size="14.5" fill="#4a4a4a">8.7</text><rect x="988" y="707.5" width="15.1" height="21.1" fill="#903838"/><text x="1008.3" y="724.9" font-size="14.5" fill="#4a4a4a">9.6</text><rect x="988" y="733.95" width="56.9" height="21.1" fill="#84a034"/><text x="1050.1" y="751.35" font-size="14.5" fill="#4a4a4a">36.4</text><g stroke="#555" stroke-width="1.1" fill="none"><ellipse cx="1002.4" cy="773.2" rx="3.5" ry="3.6"/><line x1="999.1" y1="777.8" x2="1005.7" y2="768.6"/></g><rect x="988" y="786.85" width="49.2" height="21.1" fill="#b2aa50"/><text x="1042.4" y="804.25" font-size="14.5" fill="#4a4a4a">31.9</text><rect x="988" y="813.3" width="29" height="21.1" fill="#cc8460"/><text x="1022.2" y="830.7" font-size="14.5" fill="#4a4a4a">18.4</text><rect x="988" y="839.75" width="30.2" height="21.1" fill="#d48c64"/><text x="1023.4" y="857.15" font-size="14.5" fill="#4a4a4a">19.9</text><rect x="988" y="866.2" width="32.6" height="21.1" fill="#dc9868"/><text x="1025.8" y="883.6" font-size="14.5" fill="#4a4a4a">20.9</text><rect x="988" y="892.65" width="62.9" height="21.1" fill="#52941a"/><text x="1056.1" y="910.05" font-size="14.5" fill="#4a4a4a">41.1</text><rect x="988" y="919.1" width="45.3" height="21.1" fill="#c8ac5c"/><text x="1038.5" y="936.5" font-size="14.5" fill="#4a4a4a">29.6</text><rect x="988" y="945.55" width="25.1" height="21.1" fill="#c47454"/><text x="1018.3" y="962.95" font-size="14.5" fill="#4a4a4a">16.2</text><g stroke="#555" stroke-width="1.1" fill="none"><ellipse cx="1134.3" cy="667.4" rx="3.5" ry="3.6"/><line x1="1131" y1="672" x2="1137.6" y2="662.8"/></g><rect x="1120.3" y="681.05" width="5.3" height="21.1" fill="#8c3034"/><text x="1130.8" y="698.45" font-size="14.5" fill="#4a4a4a">1,081.6</text><rect x="1120.3" y="707.5" width="7.6" height="21.1" fill="#a04840"/><text x="1133.1" y="724.9" font-size="14.5" fill="#4a4a4a">1,505.4</text><rect x="1120.3" y="733.95" width="32.8" height="21.1" fill="#52941a"/><text x="1158.3" y="751.35" font-size="14.5" fill="#4a4a4a">6,762.7</text><g stroke="#555" stroke-width="1.1" fill="none"><ellipse cx="1134.3" cy="773.2" rx="3.5" ry="3.6"/><line x1="1131" y1="777.8" x2="1137.6" y2="768.6"/></g><rect x="1120.3" y="786.85" width="10.1" height="21.1" fill="#b86450"/><text x="1135.6" y="804.25" font-size="14.5" fill="#4a4a4a">2,121.0</text><rect x="1120.3" y="813.3" width="13.6" height="21.1" fill="#d08460"/><text x="1139.1" y="830.7" font-size="14.5" fill="#4a4a4a">2,800.0</text><rect x="1120.3" y="839.75" width="13.7" height="21.1" fill="#d08862"/><text x="1139.2" y="857.15" font-size="14.5" fill="#4a4a4a">2,822.5</text><rect x="1120.3" y="866.2" width="21.6" height="21.1" fill="#d8b068"/><text x="1147.1" y="883.6" font-size="14.5" fill="#4a4a4a">4,458.3</text><rect x="1120.3" y="892.65" width="21.6" height="21.1" fill="#dcb06c"/><text x="1147.1" y="910.05" font-size="14.5" fill="#4a4a4a">4,331.3</text><rect x="1120.3" y="919.1" width="7.5" height="21.1" fill="#a04840"/><text x="1133" y="936.5" font-size="14.5" fill="#4a4a4a">1,529.9</text><rect x="1120.3" y="945.55" width="6.3" height="21.1" fill="#983c3c"/><text x="1131.8" y="962.95" font-size="14.5" fill="#4a4a4a">1,400.0</text></svg></section>
<section class="card " style="left:1258px;top:570.5px;width:674px;height:572.5px"><svg class="cv" style="left:0px;top:-0.5px" width="674" height="573" viewBox="1258 570 674 573"><text x="1594.72" y="606.8" font-size="22.3" fill="#262d33" text-anchor="middle" letter-spacing="0.15" stroke="#262d33" stroke-width="0.3">Six Month Spend Decay by Cohort</text><line x1="1394.9" x2="1919.5" y1="932.45" y2="932.45" stroke="#e6e6e6" stroke-width="1.3"/><line x1="1394.9" x2="1919.5" y1="872.9" y2="872.9" stroke="#e6e6e6" stroke-width="1.3"/><line x1="1394.9" x2="1919.5" y1="813.35" y2="813.35" stroke="#e6e6e6" stroke-width="1.3"/><line x1="1394.9" x2="1919.5" y1="753.8" y2="753.8" stroke="#e6e6e6" stroke-width="1.3"/><line x1="1394.9" x2="1919.5" y1="694.25" y2="694.25" stroke="#e6e6e6" stroke-width="1.3"/><text x="1374.9" y="996.5" font-size="15.6" fill="#6a7280" text-anchor="end" letter-spacing="-0.3">£0.00</text><text x="1374.9" y="936.95" font-size="15.6" fill="#6a7280" text-anchor="end" letter-spacing="-0.3">£10,000.00</text><text x="1374.9" y="877.4" font-size="15.6" fill="#6a7280" text-anchor="end" letter-spacing="-0.3">£20,000.00</text><text x="1374.9" y="817.85" font-size="15.6" fill="#6a7280" text-anchor="end" letter-spacing="-0.3">£30,000.00</text><text x="1374.9" y="758.3" font-size="15.6" fill="#6a7280" text-anchor="end" letter-spacing="-0.3">£40,000.00</text><text x="1374.9" y="698.75" font-size="15.6" fill="#6a7280" text-anchor="end" letter-spacing="-0.3">£50,000.00</text><text x="1285.19" y="815.3" font-size="15.6" fill="#6a7280" text-anchor="middle" letter-spacing="-0.42" transform="rotate(-90 1285.19 815.3)">Invoice Gbp Revenue Amount</text><polygon points="1399.7,992 1399.7,992 1485.5,992 1485.5,992" fill="#a3a5d6" fill-opacity="0.36"/><polyline points="1399.7,992 1485.5,992" fill="none" stroke="#a3a5d6" stroke-width="2.3" stroke-linejoin="round" stroke-linecap="round"/><polygon points="1399.7,992 1399.7,884.81 1485.5,972.94 1571.3,992 1571.3,992" fill="#d8a4b0" fill-opacity="0.36"/><polyline points="1399.7,884.81 1485.5,972.94 1571.3,992" fill="none" stroke="#d8a4b0" stroke-width="2.3" stroke-linejoin="round" stroke-linecap="round"/><polygon points="1399.7,992 1399.7,918.31 1485.5,967.44 1571.3,992 1571.3,992" fill="#77736f" fill-opacity="0.36"/><polyline points="1399.7,918.31 1485.5,967.44 1571.3,992" fill="none" stroke="#77736f" stroke-width="2.3" stroke-linejoin="round" stroke-linecap="round"/><polygon points="1399.7,992 1399.7,770.18 1485.5,681.6 1571.3,642.14 1657.1,944.36 1742.9,975.03 1828.7,992 1914.5,992 1914.5,992" fill="#6eb0f0" fill-opacity="0.36"/><polyline points="1399.7,770.18 1485.5,681.6 1571.3,642.14 1657.1,944.36 1742.9,975.03 1828.7,992 1914.5,992" fill="none" stroke="#6eb0f0" stroke-width="2.3" stroke-linejoin="round" stroke-linecap="round"/><polygon points="1399.7,992 1399.7,867.47 1485.5,823.18 1571.3,968.18 1657.1,992 1657.1,992" fill="#d0cb95" fill-opacity="0.36"/><polyline points="1399.7,867.47 1485.5,823.18 1571.3,968.18 1657.1,992" fill="none" stroke="#d0cb95" stroke-width="2.3" stroke-linejoin="round" stroke-linecap="round"/><polygon points="1399.7,992 1399.7,923.12 1485.5,910.06 1571.3,992 1571.3,992" fill="#6ea046" fill-opacity="0.27"/><polyline points="1399.7,923.12 1485.5,910.06 1571.3,992" fill="none" stroke="#6ea046" stroke-width="2.3" stroke-linejoin="round" stroke-linecap="round"/><polygon points="1399.7,992 1399.7,707.27 1485.5,840.59 1571.3,877.84 1657.1,975.55 1742.9,942.64 1828.7,922.72 1914.5,992 1914.5,992" fill="#f3a95f" fill-opacity="0.31"/><polyline points="1399.7,707.27 1485.5,840.59 1571.3,877.84 1657.1,975.55 1742.9,942.64 1828.7,922.72 1914.5,992" fill="none" stroke="#f3a95f" stroke-width="2.3" stroke-linejoin="round" stroke-linecap="round"/><polygon points="1399.7,992 1399.7,852.87 1485.5,987.24 1571.3,983.07 1657.1,989.02 1742.9,918.66 1828.7,947.04 1914.5,972.77 1914.5,992" fill="#a3a5d6" fill-opacity="0.36"/><polyline points="1399.7,852.87 1485.5,987.24 1571.3,983.07 1657.1,989.02 1742.9,918.66 1828.7,947.04 1914.5,972.77" fill="none" stroke="#a3a5d6" stroke-width="2.3" stroke-linejoin="round" stroke-linecap="round"/><polygon points="1399.7,992 1399.7,923.22 1485.5,986.64 1571.3,990.21 1657.1,986.64 1742.9,984.85 1828.7,966.1 1914.5,962.52 1914.5,992" fill="#8e3c9e" fill-opacity="0.36"/><polyline points="1399.7,923.22 1485.5,986.64 1571.3,990.21 1657.1,986.64 1742.9,984.85 1828.7,966.1 1914.5,962.52" fill="none" stroke="#8e3c9e" stroke-width="2.3" stroke-linejoin="round" stroke-linecap="round"/><polygon points="1399.7,992 1399.7,915.78 1485.5,992 1571.3,992 1657.1,992 1742.9,966.99 1828.7,926.5 1914.5,920.54 1914.5,992" fill="#2e2585" fill-opacity="0.36"/><polyline points="1399.7,915.78 1485.5,992 1571.3,992 1657.1,992 1742.9,966.99 1828.7,926.5 1914.5,920.54" fill="none" stroke="#2e2585" stroke-width="2.3" stroke-linejoin="round" stroke-linecap="round"/><line x1="1394.9" x2="1919.5" y1="992.6" y2="992.6" stroke="#ccd6eb" stroke-width="1.5"/><text x="1399.53" y="1015" font-size="15.6" fill="#6a7280" text-anchor="middle" letter-spacing="-0.33">0</text><text x="1485.33" y="1015" font-size="15.6" fill="#6a7280" text-anchor="middle" letter-spacing="-0.33">1</text><text x="1571.13" y="1015" font-size="15.6" fill="#6a7280" text-anchor="middle" letter-spacing="-0.33">2</text><text x="1656.93" y="1015" font-size="15.6" fill="#6a7280" text-anchor="middle" letter-spacing="-0.33">3</text><text x="1742.73" y="1015" font-size="15.6" fill="#6a7280" text-anchor="middle" letter-spacing="-0.33">4</text><text x="1828.53" y="1015" font-size="15.6" fill="#6a7280" text-anchor="middle" letter-spacing="-0.33">5</text><text x="1914.33" y="1015" font-size="15.6" fill="#6a7280" text-anchor="middle" letter-spacing="-0.33">6</text><text x="1657.24" y="1039" font-size="15.6" fill="#6a7280" text-anchor="middle" letter-spacing="-0.32">Quarters Since First Invoice</text><line x1="1336.9" x2="1356.9" y1="1075.6" y2="1075.6" stroke="#2e2585" stroke-width="2.5"/><text x="1363.6" y="1079.4" font-size="14.5" fill="#555" letter-spacing="-0.15">2018-Q1</text><line x1="1445.1" x2="1465.1" y1="1075.6" y2="1075.6" stroke="#8e3c9e" stroke-width="2.5"/><text x="1471.8" y="1079.4" font-size="14.5" fill="#555" letter-spacing="-0.15">2018-Q2</text><line x1="1553.3" x2="1573.3" y1="1075.6" y2="1075.6" stroke="#a3a5d6" stroke-width="2.5"/><text x="1580" y="1079.4" font-size="14.5" fill="#555" letter-spacing="-0.15">2018-Q3</text><line x1="1661.5" x2="1681.5" y1="1075.6" y2="1075.6" stroke="#f3a95f" stroke-width="2.5"/><text x="1688.2" y="1079.4" font-size="14.5" fill="#555" letter-spacing="-0.15">2018-Q4</text><line x1="1769.7" x2="1789.7" y1="1075.6" y2="1075.6" stroke="#6e7277" stroke-width="2.5"/><text x="1796.4" y="1079.4" font-size="14.5" fill="#555" letter-spacing="-0.15">2019-Q1</text><line x1="1336.9" x2="1356.9" y1="1093.25" y2="1093.25" stroke="#8b2a2a" stroke-width="2.5"/><text x="1363.6" y="1097.05" font-size="14.5" fill="#555" letter-spacing="-0.15">2019-Q2</text><line x1="1445.1" x2="1465.1" y1="1093.25" y2="1093.25" stroke="#3d8f2f" stroke-width="2.5"/><text x="1471.8" y="1097.05" font-size="14.5" fill="#555" letter-spacing="-0.15">2019-Q3</text><line x1="1553.3" x2="1573.3" y1="1093.25" y2="1093.25" stroke="#d0cb95" stroke-width="2.5"/><text x="1580" y="1097.05" font-size="14.5" fill="#555" letter-spacing="-0.15">2019-Q4</text><line x1="1661.5" x2="1681.5" y1="1093.25" y2="1093.25" stroke="#6eb0f0" stroke-width="2.5"/><text x="1688.2" y="1097.05" font-size="14.5" fill="#555" letter-spacing="-0.15">2020-Q1</text><line x1="1769.7" x2="1789.7" y1="1093.25" y2="1093.25" stroke="#77736f" stroke-width="2.5"/><text x="1796.4" y="1097.05" font-size="14.5" fill="#555" letter-spacing="-0.15">2020-Q2</text><line x1="1336.9" x2="1356.9" y1="1110.9" y2="1110.9" stroke="#d8a4b0" stroke-width="2.5"/><text x="1363.6" y="1114.7" font-size="14.5" fill="#555" letter-spacing="-0.15">2020-Q3</text><line x1="1445.1" x2="1465.1" y1="1110.9" y2="1110.9" stroke="#a3a5d6" stroke-width="2.5"/><text x="1471.8" y="1114.7" font-size="14.5" fill="#555" letter-spacing="-0.15">2020-Q4</text><line x1="1553.3" x2="1573.3" y1="1110.9" y2="1110.9" stroke="#766bb3" stroke-width="2.5"/><text x="1580" y="1114.7" font-size="14.5" fill="#555" letter-spacing="-0.15">2021-Q1</text></svg></section>
<section class="card " style="left:1947.5px;top:570.5px;width:476.5px;height:572.5px"><svg class="cv" style="left:-0.5px;top:-0.5px" width="477" height="573" viewBox="1947 570 477 573"><text x="2185.78" y="606.8" font-size="22.3" fill="#262d33" text-anchor="middle" letter-spacing="0.25" stroke="#262d33" stroke-width="0.3">Projects by Effort and Margin</text><circle cx="2083.8" cy="746.4" r="56.3" fill="#fcd8d6"/><circle cx="2206" cy="761.5" r="65.1" fill="#f5a6a2"/><circle cx="2326.6" cy="755.8" r="54.3" fill="#f3928e"/><circle cx="2015" cy="814.5" r="39.4" fill="#fde6e5"/><circle cx="2365.9" cy="822.1" r="21.7" fill="#fcd8d6"/><circle cx="2118.4" cy="884.9" r="84.7" fill="#fde8e7"/><circle cx="2284.6" cy="884.9" r="80.2" fill="#ec7470"/><circle cx="2019.2" cy="957.9" r="37.3" fill="#fde8e7"/><circle cx="2083.3" cy="1010.9" r="45" fill="#f18e8a"/><circle cx="2206.4" cy="1022.8" r="77.5" fill="#f6aaa6"/><circle cx="2322.6" cy="999.7" r="39.5" fill="#fbd4d2"/><text x="2083.8" y="750" font-size="10.2" fill="#111" text-anchor="middle" stroke="#111" stroke-width="0.25">2018-Q3</text><text x="2206" y="765.1" font-size="10.2" fill="#111" text-anchor="middle" stroke="#111" stroke-width="0.25">2019-Q1</text><text x="2326.6" y="759.4" font-size="10.2" fill="#111" text-anchor="middle" stroke="#111" stroke-width="0.25">2019-Q4</text><text x="2015" y="818.1" font-size="10.2" fill="#111" text-anchor="middle" stroke="#111" stroke-width="0.25">2019-Q3</text><text x="2365.9" y="825.7" font-size="10.2" fill="#111" text-anchor="middle" stroke="#111" stroke-width="0.25">2021-</text><text x="2118.4" y="888.5" font-size="10.2" fill="#111" text-anchor="middle" stroke="#111" stroke-width="0.25">2020-Q4</text><text x="2284.6" y="888.5" font-size="10.2" fill="#111" text-anchor="middle" stroke="#111" stroke-width="0.25">2020-Q2</text><text x="2083.3" y="1014.5" font-size="10.2" fill="#111" text-anchor="middle" stroke="#111" stroke-width="0.25">2020-Q1</text><text x="2206.4" y="1026.4" font-size="10.2" fill="#111" text-anchor="middle" stroke="#111" stroke-width="0.25">2018-Q4</text><text x="2322.6" y="1003.3" font-size="10.2" fill="#111" text-anchor="middle" stroke="#111" stroke-width="0.25">2020-Q3</text></svg></section>
<section class="card " style="left:75.5px;top:1029px;width:1166.5px;height:704px"><svg class="cv" style="left:-0.5px;top:0px" width="1167" height="704" viewBox="75 1029 1167 704"><text x="659.01" y="1064.9" font-size="22.3" fill="#262d33" text-anchor="middle" letter-spacing="0.23" stroke="#262d33" stroke-width="0.3">Spend by Cohort over Time</text><text x="192.9" y="1602.2" font-size="15.6" fill="#6a7280" text-anchor="end" letter-spacing="-0.3">£0.00</text><line x1="212.7" x2="1229.9" y1="1523.2" y2="1523.2" stroke="#e6e6e6" stroke-width="1.3"/><text x="192.9" y="1527.7" font-size="15.6" fill="#6a7280" text-anchor="end" letter-spacing="-0.3">£5,000.00</text><line x1="212.7" x2="1229.9" y1="1448.2" y2="1448.2" stroke="#e6e6e6" stroke-width="1.3"/><text x="192.9" y="1452.7" font-size="15.6" fill="#6a7280" text-anchor="end" letter-spacing="-0.3">£10,000.00</text><line x1="212.7" x2="1229.9" y1="1374" y2="1374" stroke="#e6e6e6" stroke-width="1.3"/><text x="192.9" y="1378.5" font-size="15.6" fill="#6a7280" text-anchor="end" letter-spacing="-0.3">£15,000.00</text><line x1="212.7" x2="1229.9" y1="1299.6" y2="1299.6" stroke="#e6e6e6" stroke-width="1.3"/><text x="192.9" y="1304.1" font-size="15.6" fill="#6a7280" text-anchor="end" letter-spacing="-0.3">£20,000.00</text><line x1="212.7" x2="1229.9" y1="1224" y2="1224" stroke="#e6e6e6" stroke-width="1.3"/><text x="192.9" y="1228.5" font-size="15.6" fill="#6a7280" text-anchor="end" letter-spacing="-0.3">£25,000.00</text><line x1="212.7" x2="1229.9" y1="1149.7" y2="1149.7" stroke="#e6e6e6" stroke-width="1.3"/><text x="192.9" y="1154.2" font-size="15.6" fill="#6a7280" text-anchor="end" letter-spacing="-0.3">£30,000.00</text><text x="102.69" y="1346.5" font-size="15.6" fill="#6a7280" text-anchor="middle" letter-spacing="-0.43" transform="rotate(-90 102.69 1346.5)">Invoice Gbp Revenue Amount</text><polygon points="222.6,1596.8 222.6,1596.8 252.81,1596.8 283.01,1596.8 313.21,1596.8 343.42,1596.8 373.62,1596.8 403.83,1596.8 434.03,1596.8 464.24,1596.8 494.44,1596.8 524.65,1596.8 554.86,1596.8 585.06,1596.8 615.26,1596.8 645.47,1596.8 675.67,1596.8 705.88,1596.8 736.09,1596.8 766.29,1596.8 796.5,1596.8 826.7,1596.8 856.9,1596.8 887.11,1596.8 917.31,1596.8 947.52,1596.8 977.73,1596.8 1007.93,1596.8 1038.13,1596.8 1068.34,1596.8 1098.54,1596.8 1128.75,1596.8 1158.95,1596.8 1189.16,1596.8 1219.37,1537.4 1219.37,1596.8" fill="#a3a5d6" fill-opacity="0.35"/><polyline points="222.6,1596.8 252.81,1596.8 283.01,1596.8 313.21,1596.8 343.42,1596.8 373.62,1596.8 403.83,1596.8 434.03,1596.8 464.24,1596.8 494.44,1596.8 524.65,1596.8 554.86,1596.8 585.06,1596.8 615.26,1596.8 645.47,1596.8 675.67,1596.8 705.88,1596.8 736.09,1596.8 766.29,1596.8 796.5,1596.8 826.7,1596.8 856.9,1596.8 887.11,1596.8 917.31,1596.8 947.52,1596.8 977.73,1596.8 1007.93,1596.8 1038.13,1596.8 1068.34,1596.8 1098.54,1596.8 1128.75,1596.8 1158.95,1596.8 1189.16,1596.8 1219.37,1537.4" fill="none" stroke="#a3a5d6" stroke-width="2.2" stroke-linejoin="round" stroke-linecap="round"/><polygon points="222.6,1596.8 222.6,1596.8 252.81,1596.8 283.01,1596.8 313.21,1596.8 343.42,1596.8 373.62,1596.8 403.83,1596.8 434.03,1596.8 464.24,1596.8 494.44,1596.8 524.65,1596.8 554.86,1596.8 585.06,1596.8 615.26,1596.8 645.47,1596.8 675.67,1596.8 705.88,1596.8 736.09,1596.8 766.29,1596.8 796.5,1596.8 826.7,1596.8 856.9,1596.8 887.11,1596.8 917.31,1596.8 947.52,1596.8 977.73,1596.8 1007.93,1596.8 1038.13,1596.8 1068.34,1508.5 1098.54,1420.9 1128.75,1450.6 1158.95,1540.5 1189.16,1492.5 1219.37,1596.8 1219.37,1596.8" fill="#d8a4b0" fill-opacity="0.35"/><polyline points="222.6,1596.8 252.81,1596.8 283.01,1596.8 313.21,1596.8 343.42,1596.8 373.62,1596.8 403.83,1596.8 434.03,1596.8 464.24,1596.8 494.44,1596.8 524.65,1596.8 554.86,1596.8 585.06,1596.8 615.26,1596.8 645.47,1596.8 675.67,1596.8 705.88,1596.8 736.09,1596.8 766.29,1596.8 796.5,1596.8 826.7,1596.8 856.9,1596.8 887.11,1596.8 917.31,1596.8 947.52,1596.8 977.73,1596.8 1007.93,1596.8 1038.13,1596.8 1068.34,1508.5 1098.54,1420.9 1128.75,1450.6 1158.95,1540.5 1189.16,1492.5 1219.37,1596.8" fill="none" stroke="#d8a4b0" stroke-width="2.2" stroke-linejoin="round" stroke-linecap="round"/><polygon points="222.6,1596.8 222.6,1596.8 252.81,1596.8 283.01,1596.8 313.21,1596.8 343.42,1596.8 373.62,1596.8 403.83,1596.8 434.03,1596.8 464.24,1596.8 494.44,1596.8 524.65,1596.8 554.86,1596.8 585.06,1596.8 615.26,1596.8 645.47,1596.8 675.67,1596.8 705.88,1596.8 736.09,1596.8 766.29,1596.8 796.5,1596.8 826.7,1596.8 856.9,1596.8 887.11,1596.8 917.31,1596.8 947.52,1596.8 977.73,1596.8 1007.93,1536.8 1038.13,1477.3 1068.34,1536.7 1098.54,1596.8 1128.75,1596.8 1158.95,1596.8 1189.16,1596.8 1219.37,1596.8 1219.37,1596.8" fill="#77736f" fill-opacity="0.35"/><polyline points="222.6,1596.8 252.81,1596.8 283.01,1596.8 313.21,1596.8 343.42,1596.8 373.62,1596.8 403.83,1596.8 434.03,1596.8 464.24,1596.8 494.44,1596.8 524.65,1596.8 554.86,1596.8 585.06,1596.8 615.26,1596.8 645.47,1596.8 675.67,1596.8 705.88,1596.8 736.09,1596.8 766.29,1596.8 796.5,1596.8 826.7,1596.8 856.9,1596.8 887.11,1596.8 917.31,1596.8 947.52,1596.8 977.73,1596.8 1007.93,1536.8 1038.13,1477.3 1068.34,1536.7 1098.54,1596.8 1128.75,1596.8 1158.95,1596.8 1189.16,1596.8 1219.37,1596.8" fill="none" stroke="#77736f" stroke-width="2.2" stroke-linejoin="round" stroke-linecap="round"/><polygon points="222.6,1596.8 222.6,1596.8 252.81,1596.8 283.01,1596.8 313.21,1596.8 343.42,1596.8 373.62,1596.8 403.83,1596.8 434.03,1596.8 464.24,1596.8 494.44,1596.8 524.65,1596.8 554.86,1596.8 585.06,1596.8 615.26,1596.8 645.47,1596.8 675.67,1596.8 705.88,1596.8 736.09,1596.8 766.29,1596.8 796.5,1596.8 826.7,1596.8 856.9,1596.8 887.11,1596.8 917.31,1596.8 947.52,1462.4 977.73,1388.2 1007.93,1358.4 1038.13,1477.3 1068.34,1299.5 1098.54,1148.7 1128.75,1215.2 1158.95,1426.7 1189.16,1596.8 1219.37,1596.8 1219.37,1596.8" fill="#6eb0f0" fill-opacity="0.35"/><polyline points="222.6,1596.8 252.81,1596.8 283.01,1596.8 313.21,1596.8 343.42,1596.8 373.62,1596.8 403.83,1596.8 434.03,1596.8 464.24,1596.8 494.44,1596.8 524.65,1596.8 554.86,1596.8 585.06,1596.8 615.26,1596.8 645.47,1596.8 675.67,1596.8 705.88,1596.8 736.09,1596.8 766.29,1596.8 796.5,1596.8 826.7,1596.8 856.9,1596.8 887.11,1596.8 917.31,1596.8 947.52,1462.4 977.73,1388.2 1007.93,1358.4 1038.13,1477.3 1068.34,1299.5 1098.54,1148.7 1128.75,1215.2 1158.95,1426.7 1189.16,1596.8 1219.37,1596.8" fill="none" stroke="#6eb0f0" stroke-width="2.2" stroke-linejoin="round" stroke-linecap="round"/><polygon points="222.6,1596.8 222.6,1596.8 252.81,1596.8 283.01,1596.8 313.21,1596.8 343.42,1596.8 373.62,1596.8 403.83,1596.8 434.03,1596.8 464.24,1596.8 494.44,1596.8 524.65,1596.8 554.86,1596.8 585.06,1596.8 615.26,1596.8 645.47,1596.8 675.67,1596.8 705.88,1596.8 736.09,1596.8 766.29,1596.8 796.5,1519.9 826.7,1463.6 856.9,1473.5 887.11,1535.2 917.31,1596.8 947.52,1596.8 977.73,1537.5 1007.93,1596.8 1038.13,1596.8 1068.34,1596.8 1098.54,1596.8 1128.75,1554.7 1158.95,1596.8 1189.16,1596.8 1219.37,1596.8 1219.37,1596.8" fill="#d6d08f" fill-opacity="0.35"/><polyline points="222.6,1596.8 252.81,1596.8 283.01,1596.8 313.21,1596.8 343.42,1596.8 373.62,1596.8 403.83,1596.8 434.03,1596.8 464.24,1596.8 494.44,1596.8 524.65,1596.8 554.86,1596.8 585.06,1596.8 615.26,1596.8 645.47,1596.8 675.67,1596.8 705.88,1596.8 736.09,1596.8 766.29,1596.8 796.5,1519.9 826.7,1463.6 856.9,1473.5 887.11,1535.2 917.31,1596.8 947.52,1596.8 977.73,1537.5 1007.93,1596.8 1038.13,1596.8 1068.34,1596.8 1098.54,1596.8 1128.75,1554.7 1158.95,1596.8 1189.16,1596.8 1219.37,1596.8" fill="none" stroke="#d6d08f" stroke-width="2.2" stroke-linejoin="round" stroke-linecap="round"/><polygon points="222.6,1596.8 222.6,1596.8 252.81,1596.8 283.01,1596.8 313.21,1596.8 343.42,1596.8 373.62,1596.8 403.83,1596.8 434.03,1596.8 464.24,1596.8 494.44,1596.8 524.65,1596.8 554.86,1596.8 585.06,1596.8 615.26,1596.8 645.47,1596.8 675.67,1596.8 705.88,1596.8 736.09,1596.8 766.29,1532.9 796.5,1367.3 826.7,1419.9 856.9,1472.4 887.11,1477.6 917.31,1538.8 947.52,1596.8 977.73,1596.8 1007.93,1596.8 1038.13,1596.8 1068.34,1596.8 1098.54,1596.8 1128.75,1596.8 1158.95,1444.5 1189.16,1596.8 1219.37,1596.8 1219.37,1596.8" fill="#3d8f2f" fill-opacity="0.35"/><polyline points="222.6,1596.8 252.81,1596.8 283.01,1596.8 313.21,1596.8 343.42,1596.8 373.62,1596.8 403.83,1596.8 434.03,1596.8 464.24,1596.8 494.44,1596.8 524.65,1596.8 554.86,1596.8 585.06,1596.8 615.26,1596.8 645.47,1596.8 675.67,1596.8 705.88,1596.8 736.09,1596.8 766.29,1532.9 796.5,1367.3 826.7,1419.9 856.9,1472.4 887.11,1477.6 917.31,1538.8 947.52,1596.8 977.73,1596.8 1007.93,1596.8 1038.13,1596.8 1068.34,1596.8 1098.54,1596.8 1128.75,1596.8 1158.95,1444.5 1189.16,1596.8 1219.37,1596.8" fill="none" stroke="#3d8f2f" stroke-width="2.2" stroke-linejoin="round" stroke-linecap="round"/><polygon points="222.6,1596.8 222.6,1596.8 252.81,1596.8 283.01,1596.8 313.21,1596.8 343.42,1596.8 373.62,1596.8 403.83,1596.8 434.03,1596.8 464.24,1596.8 494.44,1596.8 524.65,1596.8 554.86,1596.8 585.06,1596.8 615.26,1596.8 645.47,1567.2 675.67,1575.5 705.88,1532.6 736.09,1581 766.29,1578.5 796.5,1596.8 826.7,1596.8 856.9,1596.8 887.11,1596.8 917.31,1596.8 947.52,1596.8 977.73,1596.8 1007.93,1596.8 1038.13,1596.8 1068.34,1596.8 1098.54,1596.8 1128.75,1596.8 1158.95,1596.8 1189.16,1596.8 1219.37,1596.8 1219.37,1596.8" fill="#8b2a2a" fill-opacity="0.35"/><polyline points="222.6,1596.8 252.81,1596.8 283.01,1596.8 313.21,1596.8 343.42,1596.8 373.62,1596.8 403.83,1596.8 434.03,1596.8 464.24,1596.8 494.44,1596.8 524.65,1596.8 554.86,1596.8 585.06,1596.8 615.26,1596.8 645.47,1567.2 675.67,1575.5 705.88,1532.6 736.09,1581 766.29,1578.5 796.5,1596.8 826.7,1596.8 856.9,1596.8 887.11,1596.8 917.31,1596.8 947.52,1596.8 977.73,1596.8 1007.93,1596.8 1038.13,1596.8 1068.34,1596.8 1098.54,1596.8 1128.75,1596.8 1158.95,1596.8 1189.16,1596.8 1219.37,1596.8" fill="none" stroke="#8b2a2a" stroke-width="2.2" stroke-linejoin="round" stroke-linecap="round"/><polygon points="222.6,1596.8 222.6,1596.8 252.81,1596.8 283.01,1596.8 313.21,1596.8 343.42,1596.8 373.62,1596.8 403.83,1596.8 434.03,1583.9 464.24,1553.4 494.44,1596.8 524.65,1100.5 554.86,1392.1 585.06,1422.1 615.26,1442.7 645.47,1532.1 675.67,1596.8 705.88,1596.8 736.09,1596.8 766.29,1596.8 796.5,1596.8 826.7,1596.8 856.9,1596.8 887.11,1596.8 917.31,1596.8 947.52,1596.8 977.73,1596.8 1007.93,1596.8 1038.13,1596.8 1068.34,1596.8 1098.54,1596.8 1128.75,1596.8 1158.95,1596.8 1189.16,1596.8 1219.37,1596.8 1219.37,1596.8" fill="#f3a95f" fill-opacity="0.31"/><polyline points="222.6,1596.8 252.81,1596.8 283.01,1596.8 313.21,1596.8 343.42,1596.8 373.62,1596.8 403.83,1596.8 434.03,1583.9 464.24,1553.4 494.44,1596.8 524.65,1100.5 554.86,1392.1 585.06,1422.1 615.26,1442.7 645.47,1532.1 675.67,1596.8 705.88,1596.8 736.09,1596.8 766.29,1596.8 796.5,1596.8 826.7,1596.8 856.9,1596.8 887.11,1596.8 917.31,1596.8 947.52,1596.8 977.73,1596.8 1007.93,1596.8 1038.13,1596.8 1068.34,1596.8 1098.54,1596.8 1128.75,1596.8 1158.95,1596.8 1189.16,1596.8 1219.37,1596.8" fill="none" stroke="#f3a95f" stroke-width="2.2" stroke-linejoin="round" stroke-linecap="round"/><polygon points="222.6,1596.8 222.6,1596.8 252.81,1596.8 283.01,1596.8 313.21,1596.8 343.42,1443.5 373.62,1558.8 403.83,1435.4 434.03,1596.8 464.24,1596.8 494.44,1596.8 524.65,1596.8 554.86,1587 585.06,1543.5 615.26,1584.4 645.47,1584.4 675.67,1584 705.88,1593 736.09,1581.6 766.29,1499.8 796.5,1514.6 826.7,1456.1 856.9,1396.6 887.11,1545.5 917.31,1537.5 947.52,1537.5 977.73,1596.8 1007.93,1596.8 1038.13,1596.8 1068.34,1558.8 1098.54,1558.8 1128.75,1584.7 1158.95,1525 1189.16,1537.4 1219.37,1596.8 1219.37,1596.8" fill="#a3a5d6" fill-opacity="0.35"/><polyline points="222.6,1596.8 252.81,1596.8 283.01,1596.8 313.21,1596.8 343.42,1443.5 373.62,1558.8 403.83,1435.4 434.03,1596.8 464.24,1596.8 494.44,1596.8 524.65,1596.8 554.86,1587 585.06,1543.5 615.26,1584.4 645.47,1584.4 675.67,1584 705.88,1593 736.09,1581.6 766.29,1499.8 796.5,1514.6 826.7,1456.1 856.9,1396.6 887.11,1545.5 917.31,1537.5 947.52,1537.5 977.73,1596.8 1007.93,1596.8 1038.13,1596.8 1068.34,1558.8 1098.54,1558.8 1128.75,1584.7 1158.95,1525 1189.16,1537.4 1219.37,1596.8" fill="none" stroke="#a3a5d6" stroke-width="2.2" stroke-linejoin="round" stroke-linecap="round"/><polygon points="222.6,1596.8 222.6,1596.8 252.81,1596.8 283.01,1364.6 313.21,1596.8 343.42,1416.7 373.62,1585.1 403.83,1592.3 434.03,1596.8 464.24,1585.1 494.44,1596.8 524.65,1591.5 554.86,1594 585.06,1593 615.26,1590.8 645.47,1587 675.67,1583.9 705.88,1580.4 736.09,1546.1 766.29,1559.5 796.5,1528.8 826.7,1584.2 856.9,1519.2 887.11,1584.4 917.31,1584.4 947.52,1584.4 977.73,1584.4 1007.93,1584.4 1038.13,1596.8 1068.34,1596.8 1098.54,1596.8 1128.75,1596.8 1158.95,1596.8 1189.16,1596.8 1219.37,1596.8 1219.37,1596.8" fill="#8e4098" fill-opacity="0.385"/><polyline points="222.6,1596.8 252.81,1596.8 283.01,1364.6 313.21,1596.8 343.42,1416.7 373.62,1585.1 403.83,1592.3 434.03,1596.8 464.24,1585.1 494.44,1596.8 524.65,1591.5 554.86,1594 585.06,1593 615.26,1590.8 645.47,1587 675.67,1583.9 705.88,1580.4 736.09,1546.1 766.29,1559.5 796.5,1528.8 826.7,1584.2 856.9,1519.2 887.11,1584.4 917.31,1584.4 947.52,1584.4 977.73,1584.4 1007.93,1584.4 1038.13,1596.8 1068.34,1596.8 1098.54,1596.8 1128.75,1596.8 1158.95,1596.8 1189.16,1596.8 1219.37,1596.8" fill="none" stroke="#8e4098" stroke-width="2.2" stroke-linejoin="round" stroke-linecap="round"/><polygon points="222.6,1596.8 222.6,1592.7 252.81,1592.7 283.01,1592.7 313.21,1596.8 343.42,1592.7 373.62,1592.7 403.83,1596.8 434.03,1596.8 464.24,1592.7 494.44,1592.7 524.65,1592.7 554.86,1588 585.06,1592.7 615.26,1592.7 645.47,1592.7 675.67,1592.7 705.88,1592.7 736.09,1592.7 766.29,1592.7 796.5,1592.7 826.7,1592.7 856.9,1596.8 887.11,1592.7 917.31,1592.7 947.52,1596.8 977.73,1596.8 1007.93,1596.8 1038.13,1596.8 1068.34,1596.8 1098.54,1596.8 1128.75,1596.8 1158.95,1596.8 1189.16,1596.8 1219.37,1596.8 1219.37,1596.8" fill="#2e2585" fill-opacity="0.35"/><polyline points="222.6,1592.7 252.81,1592.7 283.01,1592.7 313.21,1596.8 343.42,1592.7 373.62,1592.7 403.83,1596.8 434.03,1596.8 464.24,1592.7 494.44,1592.7 524.65,1592.7 554.86,1588 585.06,1592.7 615.26,1592.7 645.47,1592.7 675.67,1592.7 705.88,1592.7 736.09,1592.7 766.29,1592.7 796.5,1592.7 826.7,1592.7 856.9,1596.8 887.11,1592.7 917.31,1592.7 947.52,1596.8 977.73,1596.8 1007.93,1596.8 1038.13,1596.8 1068.34,1596.8 1098.54,1596.8 1128.75,1596.8 1158.95,1596.8 1189.16,1596.8 1219.37,1596.8" fill="none" stroke="#2e2585" stroke-width="2.2" stroke-linejoin="round" stroke-linecap="round"/><line x1="212.7" x2="1229.9" y1="1598.1" y2="1598.1" stroke="#ccd6eb" stroke-width="1.4"/><text x="222.41" y="1621.5" font-size="15.6" fill="#6a7280" text-anchor="middle" letter-spacing="-0.38">May</text><text x="343.26" y="1621.5" font-size="15.6" fill="#6a7280" text-anchor="middle" letter-spacing="-0.33">September</text><text x="464.1" y="1621.5" font-size="15.6" fill="#6a7280" text-anchor="middle" letter-spacing="-0.28">January '19</text><text x="584.87" y="1621.5" font-size="15.6" fill="#6a7280" text-anchor="middle" letter-spacing="-0.38">May</text><text x="705.72" y="1621.5" font-size="15.6" fill="#6a7280" text-anchor="middle" letter-spacing="-0.33">September</text><text x="826.56" y="1621.5" font-size="15.6" fill="#6a7280" text-anchor="middle" letter-spacing="-0.28">January '20</text><text x="947.33" y="1621.5" font-size="15.6" fill="#6a7280" text-anchor="middle" letter-spacing="-0.38">May</text><text x="1068.18" y="1621.5" font-size="15.6" fill="#6a7280" text-anchor="middle" letter-spacing="-0.33">September</text><text x="1189.02" y="1621.5" font-size="15.6" fill="#6a7280" text-anchor="middle" letter-spacing="-0.28">January '21</text><text x="721.19" y="1644.7" font-size="15.6" fill="#6a7280" text-anchor="middle" letter-spacing="-0.22">Invoice Month</text><line x1="131" x2="151" y1="1681.7" y2="1681.7" stroke="#2e2585" stroke-width="2.5"/><text x="157.7" y="1685.5" font-size="14.5" fill="#555" letter-spacing="-0.15">2018-Q2</text><line x1="239.3" x2="259.3" y1="1681.7" y2="1681.7" stroke="#8e4098" stroke-width="2.5"/><text x="266" y="1685.5" font-size="14.5" fill="#555" letter-spacing="-0.15">2018-Q3</text><line x1="347.6" x2="367.6" y1="1681.7" y2="1681.7" stroke="#a3a5d6" stroke-width="2.5"/><text x="374.3" y="1685.5" font-size="14.5" fill="#555" letter-spacing="-0.15">2018-Q4</text><line x1="455.9" x2="475.9" y1="1681.7" y2="1681.7" stroke="#f3a95f" stroke-width="2.5"/><text x="482.6" y="1685.5" font-size="14.5" fill="#555" letter-spacing="-0.15">2019-Q1</text><line x1="564.2" x2="584.2" y1="1681.7" y2="1681.7" stroke="#6e7277" stroke-width="2.5"/><text x="590.9" y="1685.5" font-size="14.5" fill="#555" letter-spacing="-0.15">2019-Q2</text><line x1="672.5" x2="692.5" y1="1681.7" y2="1681.7" stroke="#8b2a2a" stroke-width="2.5"/><text x="699.2" y="1685.5" font-size="14.5" fill="#555" letter-spacing="-0.15">2019-Q3</text><line x1="780.8" x2="800.8" y1="1681.7" y2="1681.7" stroke="#3d8f2f" stroke-width="2.5"/><text x="807.5" y="1685.5" font-size="14.5" fill="#555" letter-spacing="-0.15">2019-Q4</text><line x1="889.1" x2="909.1" y1="1681.7" y2="1681.7" stroke="#d6d08f" stroke-width="2.5"/><text x="915.8" y="1685.5" font-size="14.5" fill="#555" letter-spacing="-0.15">2020-Q1</text><line x1="997.4" x2="1017.4" y1="1681.7" y2="1681.7" stroke="#6eb0f0" stroke-width="2.5"/><text x="1024.1" y="1685.5" font-size="14.5" fill="#555" letter-spacing="-0.15">2020-Q2</text><line x1="1105.7" x2="1125.7" y1="1681.7" y2="1681.7" stroke="#77736f" stroke-width="2.5"/><text x="1132.4" y="1685.5" font-size="14.5" fill="#555" letter-spacing="-0.15">2020-Q3</text><line x1="131" x2="151" y1="1699" y2="1699" stroke="#d8a4b0" stroke-width="2.5"/><text x="157.7" y="1702.8" font-size="14.5" fill="#555" letter-spacing="-0.15">2020-Q4</text><line x1="239.3" x2="259.3" y1="1699" y2="1699" stroke="#a3a5d6" stroke-width="2.5"/><text x="266" y="1702.8" font-size="14.5" fill="#555" letter-spacing="-0.15">2021-Q1</text><line x1="347.6" x2="367.6" y1="1699" y2="1699" stroke="#766bb3" stroke-width="2.5"/><g stroke="#555" stroke-width="1.1" fill="none"><ellipse cx="378.8" cy="1698.2" rx="3.5" ry="3.6"/><line x1="375.5" y1="1702.8" x2="382.1" y2="1693.6"/></g></svg></section>
<section class="card " style="left:1258px;top:1159.5px;width:1166px;height:573.5px"><svg class="cv" style="left:0px;top:-0.5px" width="1166" height="574" viewBox="1258 1159 1166 574"><text x="1841.1" y="1196" font-size="22.3" fill="#262d33" text-anchor="middle" letter-spacing="0.2" stroke="#262d33" stroke-width="0.3">6 Month Revenue by Client Cohort</text><rect x="1258" y="1356" width="1166" height="35" fill="#f5f5f5"/><rect x="1258" y="1426" width="1166" height="35" fill="#f5f5f5"/><rect x="1258" y="1497" width="1166" height="35" fill="#f5f5f5"/><rect x="1258" y="1567" width="1166" height="35" fill="#f5f5f5"/><rect x="1258" y="1638" width="1166" height="35" fill="#f5f5f5"/><rect x="1258" y="1708" width="1166" height="36" fill="#f5f5f5"/><rect x="1561" y="1320" width="123" height="36" fill="#bc6c54"/><rect x="2054" y="1320" width="123" height="36" fill="#9c4840"/><rect x="2177" y="1320" width="124" height="36" fill="#b86850"/><rect x="2301" y="1320" width="123" height="36" fill="#bc6c54"/><rect x="1561" y="1356" width="123" height="35" fill="#b46850"/><rect x="1684" y="1356" width="123" height="35" fill="#8c3434"/><rect x="1807" y="1356" width="124" height="35" fill="#8c3434"/><rect x="1931" y="1356" width="123" height="35" fill="#8c3434"/><rect x="2054" y="1356" width="123" height="35" fill="#8c3434"/><rect x="2177" y="1356" width="124" height="35" fill="#9c4840"/><rect x="2301" y="1356" width="123" height="35" fill="#a04840"/><rect x="1561" y="1391" width="123" height="35" fill="#e09e6c"/><rect x="1684" y="1391" width="123" height="35" fill="#8c3434"/><rect x="1807" y="1391" width="124" height="35" fill="#903838"/><rect x="1931" y="1391" width="123" height="35" fill="#8c3434"/><rect x="2054" y="1391" width="123" height="35" fill="#bc6c54"/><rect x="2177" y="1391" width="124" height="35" fill="#ac5848"/><rect x="2301" y="1391" width="123" height="35" fill="#943c3a"/><rect x="1561" y="1426" width="123" height="35" fill="#90a65a"/><rect x="1684" y="1426" width="123" height="35" fill="#e8a870"/><rect x="1807" y="1426" width="124" height="35" fill="#d08860"/><rect x="1931" y="1426" width="123" height="35" fill="#943c3a"/><rect x="2054" y="1426" width="123" height="35" fill="#ac5848"/><rect x="2177" y="1426" width="124" height="35" fill="#b86850"/><rect x="1561" y="1532" width="123" height="35" fill="#b46850"/><rect x="1684" y="1532" width="123" height="35" fill="#c07454"/><rect x="1561" y="1567" width="123" height="35" fill="#d49068"/><rect x="1684" y="1567" width="123" height="35" fill="#f1b67a"/><rect x="1807" y="1567" width="124" height="35" fill="#98403c"/><rect x="1561" y="1602" width="123" height="36" fill="#c8b06c"/><rect x="1684" y="1602" width="123" height="36" fill="#78a458"/><rect x="1807" y="1602" width="124" height="36" fill="#509a48"/><rect x="1931" y="1602" width="123" height="36" fill="#ac5c48"/><rect x="2054" y="1602" width="123" height="36" fill="#98403c"/><rect x="1561" y="1638" width="123" height="35" fill="#bc6c54"/><rect x="1684" y="1638" width="123" height="35" fill="#98403c"/><rect x="1561" y="1673" width="123" height="35" fill="#cc8460"/><rect x="1684" y="1673" width="123" height="35" fill="#98403c"/><rect x="1561" y="1708" width="123" height="36" fill="#8c3034"/><line x1="1684.03" x2="1684.03" y1="1461.38" y2="1496.65" stroke="#e1e3e4" stroke-width="1"/><line x1="1684.03" x2="1684.03" y1="1496.65" y2="1531.92" stroke="#e1e3e4" stroke-width="1"/><line x1="1807.36" x2="1807.36" y1="1320.3" y2="1355.57" stroke="#e1e3e4" stroke-width="1"/><line x1="1807.36" x2="1807.36" y1="1461.38" y2="1496.65" stroke="#e1e3e4" stroke-width="1"/><line x1="1807.36" x2="1807.36" y1="1496.65" y2="1531.92" stroke="#e1e3e4" stroke-width="1"/><line x1="1807.36" x2="1807.36" y1="1708.27" y2="1743.54" stroke="#e1e3e4" stroke-width="1"/><line x1="1930.69" x2="1930.69" y1="1320.3" y2="1355.57" stroke="#e1e3e4" stroke-width="1"/><line x1="1930.69" x2="1930.69" y1="1461.38" y2="1496.65" stroke="#e1e3e4" stroke-width="1"/><line x1="1930.69" x2="1930.69" y1="1496.65" y2="1531.92" stroke="#e1e3e4" stroke-width="1"/><line x1="1930.69" x2="1930.69" y1="1531.92" y2="1567.19" stroke="#e1e3e4" stroke-width="1"/><line x1="1930.69" x2="1930.69" y1="1637.73" y2="1673" stroke="#e1e3e4" stroke-width="1"/><line x1="1930.69" x2="1930.69" y1="1673" y2="1708.27" stroke="#e1e3e4" stroke-width="1"/><line x1="1930.69" x2="1930.69" y1="1708.27" y2="1743.54" stroke="#e1e3e4" stroke-width="1"/><line x1="2054.02" x2="2054.02" y1="1461.38" y2="1496.65" stroke="#e1e3e4" stroke-width="1"/><line x1="2054.02" x2="2054.02" y1="1496.65" y2="1531.92" stroke="#e1e3e4" stroke-width="1"/><line x1="2054.02" x2="2054.02" y1="1531.92" y2="1567.19" stroke="#e1e3e4" stroke-width="1"/><line x1="2054.02" x2="2054.02" y1="1567.19" y2="1602.46" stroke="#e1e3e4" stroke-width="1"/><line x1="2054.02" x2="2054.02" y1="1637.73" y2="1673" stroke="#e1e3e4" stroke-width="1"/><line x1="2054.02" x2="2054.02" y1="1673" y2="1708.27" stroke="#e1e3e4" stroke-width="1"/><line x1="2054.02" x2="2054.02" y1="1708.27" y2="1743.54" stroke="#e1e3e4" stroke-width="1"/><line x1="2177.35" x2="2177.35" y1="1461.38" y2="1496.65" stroke="#e1e3e4" stroke-width="1"/><line x1="2177.35" x2="2177.35" y1="1496.65" y2="1531.92" stroke="#e1e3e4" stroke-width="1"/><line x1="2177.35" x2="2177.35" y1="1531.92" y2="1567.19" stroke="#e1e3e4" stroke-width="1"/><line x1="2177.35" x2="2177.35" y1="1567.19" y2="1602.46" stroke="#e1e3e4" stroke-width="1"/><line x1="2177.35" x2="2177.35" y1="1637.73" y2="1673" stroke="#e1e3e4" stroke-width="1"/><line x1="2177.35" x2="2177.35" y1="1673" y2="1708.27" stroke="#e1e3e4" stroke-width="1"/><line x1="2177.35" x2="2177.35" y1="1708.27" y2="1743.54" stroke="#e1e3e4" stroke-width="1"/><line x1="2300.68" x2="2300.68" y1="1461.38" y2="1496.65" stroke="#e1e3e4" stroke-width="1"/><line x1="2300.68" x2="2300.68" y1="1496.65" y2="1531.92" stroke="#e1e3e4" stroke-width="1"/><line x1="2300.68" x2="2300.68" y1="1531.92" y2="1567.19" stroke="#e1e3e4" stroke-width="1"/><line x1="2300.68" x2="2300.68" y1="1567.19" y2="1602.46" stroke="#e1e3e4" stroke-width="1"/><line x1="2300.68" x2="2300.68" y1="1602.46" y2="1637.73" stroke="#e1e3e4" stroke-width="1"/><line x1="2300.68" x2="2300.68" y1="1637.73" y2="1673" stroke="#e1e3e4" stroke-width="1"/><line x1="2300.68" x2="2300.68" y1="1673" y2="1708.27" stroke="#e1e3e4" stroke-width="1"/><line x1="2300.68" x2="2300.68" y1="1708.27" y2="1743.54" stroke="#e1e3e4" stroke-width="1"/><line x1="1560.7" x2="1560.7" y1="1461.38" y2="1496.65" stroke="#e1e3e4" stroke-width="1"/><line x1="1560.7" x2="1560.7" y1="1496.65" y2="1531.92" stroke="#e1e3e4" stroke-width="1"/><line x1="1324.7" x2="1324.7" y1="1320.3" y2="1734" stroke="#c3cdd3" stroke-width="1.6"/><line x1="1324.7" x2="1324.7" y1="1275.4" y2="1290" stroke="#d9dee1" stroke-width="1.4"/><line x1="1560.7" x2="1560.7" y1="1275.4" y2="1290" stroke="#d9dee1" stroke-width="1.4"/><line x1="1684.03" x2="1684.03" y1="1275.4" y2="1290" stroke="#d9dee1" stroke-width="1.4"/><line x1="1807.36" x2="1807.36" y1="1275.4" y2="1290" stroke="#d9dee1" stroke-width="1.4"/><line x1="1930.69" x2="1930.69" y1="1275.4" y2="1290" stroke="#d9dee1" stroke-width="1.4"/><line x1="2054.02" x2="2054.02" y1="1275.4" y2="1290" stroke="#d9dee1" stroke-width="1.4"/><line x1="2177.35" x2="2177.35" y1="1275.4" y2="1290" stroke="#d9dee1" stroke-width="1.4"/><line x1="2300.68" x2="2300.68" y1="1275.4" y2="1290" stroke="#d9dee1" stroke-width="1.4"/><line x1="2423.2" x2="2423.2" y1="1275.4" y2="1290" stroke="#d9dee1" stroke-width="1.4"/><line x1="1258" x2="2424" y1="1267" y2="1267" stroke="#c3cdd3" stroke-width="1.5"/><line x1="1258" x2="2424" y1="1319.6" y2="1319.6" stroke="#c3cdd3" stroke-width="1.5"/><text x="1335.6" y="1231.6" font-size="14.5" fill="#5c5c5c" font-weight="bold" letter-spacing="-0.18">Quarters Since First Invoic</text><text x="1335.6" y="1258.6" font-size="14.5" fill="#5c5c5c" font-weight="bold">e</text><polyline points="1532.8,1225 1538.2,1229.9 1532.8,1234.8" fill="none" stroke="#5c5c5c" stroke-width="1.5"/><text x="1336.2" y="1284.9" font-size="14.5" fill="#5c5c5c" font-weight="bold" letter-spacing="-0.19">Company Created Quarter</text><text x="1571.2" y="1231.6" font-size="14.5" fill="#5c5c5c" font-weight="bold">0</text><text x="1571.2" y="1284.9" font-size="14.5" fill="#5c5c5c" font-weight="bold" letter-spacing="-0.11">Total</text><text x="1571.2" y="1311.4" font-size="14.5" fill="#5c5c5c" font-weight="bold" letter-spacing="-0.38">Reven</text><text x="1694.53" y="1231.6" font-size="14.5" fill="#5c5c5c" font-weight="bold">1</text><text x="1694.53" y="1284.9" font-size="14.5" fill="#5c5c5c" font-weight="bold" letter-spacing="-0.11">Total</text><text x="1694.53" y="1311.4" font-size="14.5" fill="#5c5c5c" font-weight="bold" letter-spacing="-0.32">Revenue</text><text x="1817.86" y="1231.6" font-size="14.5" fill="#5c5c5c" font-weight="bold">2</text><text x="1817.86" y="1284.9" font-size="14.5" fill="#5c5c5c" font-weight="bold" letter-spacing="-0.11">Total</text><text x="1817.86" y="1311.4" font-size="14.5" fill="#5c5c5c" font-weight="bold" letter-spacing="-0.32">Revenue</text><text x="1941.19" y="1231.6" font-size="14.5" fill="#5c5c5c" font-weight="bold">3</text><text x="1941.19" y="1284.9" font-size="14.5" fill="#5c5c5c" font-weight="bold" letter-spacing="-0.11">Total</text><text x="1941.19" y="1311.4" font-size="14.5" fill="#5c5c5c" font-weight="bold" letter-spacing="-0.32">Revenue</text><text x="2064.52" y="1231.6" font-size="14.5" fill="#5c5c5c" font-weight="bold">4</text><text x="2064.52" y="1284.9" font-size="14.5" fill="#5c5c5c" font-weight="bold" letter-spacing="-0.11">Total</text><text x="2064.52" y="1311.4" font-size="14.5" fill="#5c5c5c" font-weight="bold" letter-spacing="-0.32">Revenue</text><text x="2187.85" y="1231.6" font-size="14.5" fill="#5c5c5c" font-weight="bold">5</text><text x="2187.85" y="1284.9" font-size="14.5" fill="#5c5c5c" font-weight="bold" letter-spacing="-0.11">Total</text><text x="2187.85" y="1311.4" font-size="14.5" fill="#5c5c5c" font-weight="bold" letter-spacing="-0.32">Revenue</text><text x="2311.18" y="1231.6" font-size="14.5" fill="#5c5c5c" font-weight="bold">6</text><text x="2311.18" y="1284.9" font-size="14.5" fill="#5c5c5c" font-weight="bold" letter-spacing="-0.11">Total</text><text x="2311.18" y="1311.4" font-size="14.5" fill="#5c5c5c" font-weight="bold" letter-spacing="-0.32">Revenue</text><polyline points="1634,1280.4 1638.8,1285.4 1643.6,1280.4" fill="none" stroke="#5c5c5c" stroke-width="1.5"/><text x="1313.4" y="1338.8" font-size="14.5" fill="#c2c2c2" text-anchor="end">1</text><text x="1335.6" y="1338.8" font-size="14.5" fill="#4a4a4a" letter-spacing="-0.09">2018-Q1</text><text x="1672.43" y="1338.5" font-size="14.5" fill="#333" text-anchor="end">£12,800</text><g stroke="#c8c8c8" stroke-width="1.1" fill="none"><ellipse cx="1791.06" cy="1333.8" rx="3.5" ry="3.6"/><line x1="1787.76" y1="1338.4" x2="1794.36" y2="1329.2"/></g><g stroke="#c8c8c8" stroke-width="1.1" fill="none"><ellipse cx="1914.39" cy="1333.8" rx="3.5" ry="3.6"/><line x1="1911.09" y1="1338.4" x2="1917.69" y2="1329.2"/></g><g stroke="#c8c8c8" stroke-width="1.1" fill="none"><ellipse cx="2037.72" cy="1333.8" rx="3.5" ry="3.6"/><line x1="2034.42" y1="1338.4" x2="2041.02" y2="1329.2"/></g><text x="2165.75" y="1338.5" font-size="14.5" fill="#fff" text-anchor="end" stroke="#fff" stroke-width="0.3">£4,200</text><text x="2289.08" y="1338.5" font-size="14.5" fill="#fff" text-anchor="end" stroke="#fff" stroke-width="0.3">£11,000</text><text x="2414.5" y="1338.5" font-size="14.5" fill="#fff" text-anchor="end" stroke="#fff" stroke-width="0.3">£12,000</text><text x="1313.4" y="1374.07" font-size="14.5" fill="#c2c2c2" text-anchor="end">2</text><text x="1335.6" y="1374.07" font-size="14.5" fill="#4a4a4a" letter-spacing="-0.09">2018-Q2</text><text x="1672.43" y="1373.77" font-size="14.5" fill="#fff" text-anchor="end" stroke="#fff" stroke-width="0.3">£11,550</text><text x="1795.76" y="1373.77" font-size="14.5" fill="#fff" text-anchor="end" stroke="#fff" stroke-width="0.3">£900</text><text x="1919.09" y="1373.77" font-size="14.5" fill="#fff" text-anchor="end" stroke="#fff" stroke-width="0.3">£300</text><text x="2042.42" y="1373.77" font-size="14.5" fill="#fff" text-anchor="end" stroke="#fff" stroke-width="0.3">£900</text><text x="2165.75" y="1373.77" font-size="14.5" fill="#fff" text-anchor="end" stroke="#fff" stroke-width="0.3">£1,200</text><text x="2289.08" y="1373.77" font-size="14.5" fill="#fff" text-anchor="end" stroke="#fff" stroke-width="0.3">£4,350</text><text x="2414.5" y="1373.77" font-size="14.5" fill="#fff" text-anchor="end" stroke="#fff" stroke-width="0.3">£4,950</text><text x="1313.4" y="1409.34" font-size="14.5" fill="#c2c2c2" text-anchor="end">3</text><text x="1335.6" y="1409.34" font-size="14.5" fill="#4a4a4a" letter-spacing="-0.09">2018-Q3</text><text x="1672.43" y="1409.04" font-size="14.5" fill="#333" text-anchor="end">£23,363</text><text x="1795.76" y="1409.04" font-size="14.5" fill="#fff" text-anchor="end" stroke="#fff" stroke-width="0.3">£800</text><text x="1919.09" y="1409.04" font-size="14.5" fill="#fff" text-anchor="end" stroke="#fff" stroke-width="0.3">£1,500</text><text x="2042.42" y="1409.04" font-size="14.5" fill="#fff" text-anchor="end" stroke="#fff" stroke-width="0.3">£500</text><text x="2165.75" y="1409.04" font-size="14.5" fill="#fff" text-anchor="end" stroke="#fff" stroke-width="0.3">£12,315</text><text x="2289.08" y="1409.04" font-size="14.5" fill="#fff" text-anchor="end" stroke="#fff" stroke-width="0.3">£7,550</text><text x="2414.5" y="1409.04" font-size="14.5" fill="#fff" text-anchor="end" stroke="#fff" stroke-width="0.3">£3,230</text><text x="1313.4" y="1444.61" font-size="14.5" fill="#c2c2c2" text-anchor="end">4</text><text x="1335.6" y="1444.61" font-size="14.5" fill="#4a4a4a" letter-spacing="-0.09">2018-Q4</text><text x="1672.43" y="1444.31" font-size="14.5" fill="#333" text-anchor="end">£47,813</text><text x="1795.76" y="1444.31" font-size="14.5" fill="#333" text-anchor="end">£25,425</text><text x="1919.09" y="1444.31" font-size="14.5" fill="#333" text-anchor="end">£19,171</text><text x="2042.42" y="1444.31" font-size="14.5" fill="#fff" text-anchor="end" stroke="#fff" stroke-width="0.3">£2,763</text><text x="2165.75" y="1444.31" font-size="14.5" fill="#fff" text-anchor="end" stroke="#fff" stroke-width="0.3">£8,288</text><text x="2289.08" y="1444.31" font-size="14.5" fill="#fff" text-anchor="end" stroke="#fff" stroke-width="0.3">£11,634</text><g stroke="#c8c8c8" stroke-width="1.1" fill="none"><ellipse cx="2408.8" cy="1439.61" rx="3.5" ry="3.6"/><line x1="2405.5" y1="1444.21" x2="2412.1" y2="1435.01"/></g><text x="1313.4" y="1479.88" font-size="14.5" fill="#c2c2c2" text-anchor="end">5</text><text x="1335.6" y="1479.88" font-size="14.5" fill="#4a4a4a" letter-spacing="-0.09">2019-Q1</text><g stroke="#c8c8c8" stroke-width="1.1" fill="none"><ellipse cx="1667.73" cy="1474.88" rx="3.5" ry="3.6"/><line x1="1664.43" y1="1479.48" x2="1671.03" y2="1470.28"/></g><g stroke="#c8c8c8" stroke-width="1.1" fill="none"><ellipse cx="1791.06" cy="1474.88" rx="3.5" ry="3.6"/><line x1="1787.76" y1="1479.48" x2="1794.36" y2="1470.28"/></g><g stroke="#c8c8c8" stroke-width="1.1" fill="none"><ellipse cx="1914.39" cy="1474.88" rx="3.5" ry="3.6"/><line x1="1911.09" y1="1479.48" x2="1917.69" y2="1470.28"/></g><g stroke="#c8c8c8" stroke-width="1.1" fill="none"><ellipse cx="2037.72" cy="1474.88" rx="3.5" ry="3.6"/><line x1="2034.42" y1="1479.48" x2="2041.02" y2="1470.28"/></g><g stroke="#c8c8c8" stroke-width="1.1" fill="none"><ellipse cx="2161.05" cy="1474.88" rx="3.5" ry="3.6"/><line x1="2157.75" y1="1479.48" x2="2164.35" y2="1470.28"/></g><g stroke="#c8c8c8" stroke-width="1.1" fill="none"><ellipse cx="2284.38" cy="1474.88" rx="3.5" ry="3.6"/><line x1="2281.08" y1="1479.48" x2="2287.68" y2="1470.28"/></g><g stroke="#c8c8c8" stroke-width="1.1" fill="none"><ellipse cx="2408.8" cy="1474.88" rx="3.5" ry="3.6"/><line x1="2405.5" y1="1479.48" x2="2412.1" y2="1470.28"/></g><text x="1313.4" y="1515.15" font-size="14.5" fill="#c2c2c2" text-anchor="end">6</text><text x="1335.6" y="1515.15" font-size="14.5" fill="#4a4a4a" letter-spacing="-0.09">2019-Q2</text><g stroke="#c8c8c8" stroke-width="1.1" fill="none"><ellipse cx="1667.73" cy="1510.15" rx="3.5" ry="3.6"/><line x1="1664.43" y1="1514.75" x2="1671.03" y2="1505.55"/></g><g stroke="#c8c8c8" stroke-width="1.1" fill="none"><ellipse cx="1791.06" cy="1510.15" rx="3.5" ry="3.6"/><line x1="1787.76" y1="1514.75" x2="1794.36" y2="1505.55"/></g><g stroke="#c8c8c8" stroke-width="1.1" fill="none"><ellipse cx="1914.39" cy="1510.15" rx="3.5" ry="3.6"/><line x1="1911.09" y1="1514.75" x2="1917.69" y2="1505.55"/></g><g stroke="#c8c8c8" stroke-width="1.1" fill="none"><ellipse cx="2037.72" cy="1510.15" rx="3.5" ry="3.6"/><line x1="2034.42" y1="1514.75" x2="2041.02" y2="1505.55"/></g><g stroke="#c8c8c8" stroke-width="1.1" fill="none"><ellipse cx="2161.05" cy="1510.15" rx="3.5" ry="3.6"/><line x1="2157.75" y1="1514.75" x2="2164.35" y2="1505.55"/></g><g stroke="#c8c8c8" stroke-width="1.1" fill="none"><ellipse cx="2284.38" cy="1510.15" rx="3.5" ry="3.6"/><line x1="2281.08" y1="1514.75" x2="2287.68" y2="1505.55"/></g><g stroke="#c8c8c8" stroke-width="1.1" fill="none"><ellipse cx="2408.8" cy="1510.15" rx="3.5" ry="3.6"/><line x1="2405.5" y1="1514.75" x2="2412.1" y2="1505.55"/></g><text x="1313.4" y="1550.42" font-size="14.5" fill="#c2c2c2" text-anchor="end">7</text><text x="1335.6" y="1550.42" font-size="14.5" fill="#4a4a4a" letter-spacing="-0.09">2019-Q3</text><text x="1672.43" y="1550.12" font-size="14.5" fill="#fff" text-anchor="end" stroke="#fff" stroke-width="0.3">£11,567</text><text x="1795.76" y="1550.12" font-size="14.5" fill="#333" text-anchor="end">£13,760</text><g stroke="#c8c8c8" stroke-width="1.1" fill="none"><ellipse cx="1914.39" cy="1545.42" rx="3.5" ry="3.6"/><line x1="1911.09" y1="1550.02" x2="1917.69" y2="1540.82"/></g><g stroke="#c8c8c8" stroke-width="1.1" fill="none"><ellipse cx="2037.72" cy="1545.42" rx="3.5" ry="3.6"/><line x1="2034.42" y1="1550.02" x2="2041.02" y2="1540.82"/></g><g stroke="#c8c8c8" stroke-width="1.1" fill="none"><ellipse cx="2161.05" cy="1545.42" rx="3.5" ry="3.6"/><line x1="2157.75" y1="1550.02" x2="2164.35" y2="1540.82"/></g><g stroke="#c8c8c8" stroke-width="1.1" fill="none"><ellipse cx="2284.38" cy="1545.42" rx="3.5" ry="3.6"/><line x1="2281.08" y1="1550.02" x2="2287.68" y2="1540.82"/></g><g stroke="#c8c8c8" stroke-width="1.1" fill="none"><ellipse cx="2408.8" cy="1545.42" rx="3.5" ry="3.6"/><line x1="2405.5" y1="1550.02" x2="2412.1" y2="1540.82"/></g><text x="1313.4" y="1585.69" font-size="14.5" fill="#c2c2c2" text-anchor="end">8</text><text x="1335.6" y="1585.69" font-size="14.5" fill="#4a4a4a" letter-spacing="-0.09">2019-Q4</text><text x="1672.43" y="1585.39" font-size="14.5" fill="#333" text-anchor="end">£20,912</text><text x="1795.76" y="1585.39" font-size="14.5" fill="#333" text-anchor="end">£28,350</text><text x="1919.09" y="1585.39" font-size="14.5" fill="#fff" text-anchor="end" stroke="#fff" stroke-width="0.3">£4,000</text><g stroke="#c8c8c8" stroke-width="1.1" fill="none"><ellipse cx="2037.72" cy="1580.69" rx="3.5" ry="3.6"/><line x1="2034.42" y1="1585.29" x2="2041.02" y2="1576.09"/></g><g stroke="#c8c8c8" stroke-width="1.1" fill="none"><ellipse cx="2161.05" cy="1580.69" rx="3.5" ry="3.6"/><line x1="2157.75" y1="1585.29" x2="2164.35" y2="1576.09"/></g><g stroke="#c8c8c8" stroke-width="1.1" fill="none"><ellipse cx="2284.38" cy="1580.69" rx="3.5" ry="3.6"/><line x1="2281.08" y1="1585.29" x2="2287.68" y2="1576.09"/></g><g stroke="#c8c8c8" stroke-width="1.1" fill="none"><ellipse cx="2408.8" cy="1580.69" rx="3.5" ry="3.6"/><line x1="2405.5" y1="1585.29" x2="2412.1" y2="1576.09"/></g><text x="1313.4" y="1620.96" font-size="14.5" fill="#c2c2c2" text-anchor="end">9</text><text x="1335.6" y="1620.96" font-size="14.5" fill="#4a4a4a" letter-spacing="-0.09">2020-Q1</text><text x="1672.43" y="1620.66" font-size="14.5" fill="#333" text-anchor="end">£37,250</text><text x="1795.76" y="1620.66" font-size="14.5" fill="#333" text-anchor="end">£52,125</text><text x="1919.09" y="1620.66" font-size="14.5" fill="#fff" text-anchor="end" stroke="#fff" stroke-width="0.3">£58,750</text><text x="2042.42" y="1620.66" font-size="14.5" fill="#fff" text-anchor="end" stroke="#fff" stroke-width="0.3">£8,000</text><text x="2165.75" y="1620.66" font-size="14.5" fill="#fff" text-anchor="end" stroke="#fff" stroke-width="0.3">£2,850</text><g stroke="#c8c8c8" stroke-width="1.1" fill="none"><ellipse cx="2284.38" cy="1615.96" rx="3.5" ry="3.6"/><line x1="2281.08" y1="1620.56" x2="2287.68" y2="1611.36"/></g><g stroke="#c8c8c8" stroke-width="1.1" fill="none"><ellipse cx="2408.8" cy="1615.96" rx="3.5" ry="3.6"/><line x1="2405.5" y1="1620.56" x2="2412.1" y2="1611.36"/></g><text x="1313.4" y="1656.23" font-size="14.5" fill="#c2c2c2" text-anchor="end">10</text><text x="1335.6" y="1656.23" font-size="14.5" fill="#4a4a4a" letter-spacing="-0.09">2020-Q2</text><text x="1672.43" y="1655.93" font-size="14.5" fill="#fff" text-anchor="end" stroke="#fff" stroke-width="0.3">£12,375</text><text x="1795.76" y="1655.93" font-size="14.5" fill="#fff" text-anchor="end" stroke="#fff" stroke-width="0.3">£4,125</text><g stroke="#c8c8c8" stroke-width="1.1" fill="none"><ellipse cx="1914.39" cy="1651.23" rx="3.5" ry="3.6"/><line x1="1911.09" y1="1655.83" x2="1917.69" y2="1646.63"/></g><g stroke="#c8c8c8" stroke-width="1.1" fill="none"><ellipse cx="2037.72" cy="1651.23" rx="3.5" ry="3.6"/><line x1="2034.42" y1="1655.83" x2="2041.02" y2="1646.63"/></g><g stroke="#c8c8c8" stroke-width="1.1" fill="none"><ellipse cx="2161.05" cy="1651.23" rx="3.5" ry="3.6"/><line x1="2157.75" y1="1655.83" x2="2164.35" y2="1646.63"/></g><g stroke="#c8c8c8" stroke-width="1.1" fill="none"><ellipse cx="2284.38" cy="1651.23" rx="3.5" ry="3.6"/><line x1="2281.08" y1="1655.83" x2="2287.68" y2="1646.63"/></g><g stroke="#c8c8c8" stroke-width="1.1" fill="none"><ellipse cx="2408.8" cy="1651.23" rx="3.5" ry="3.6"/><line x1="2405.5" y1="1655.83" x2="2412.1" y2="1646.63"/></g><text x="1313.4" y="1691.5" font-size="14.5" fill="#c2c2c2" text-anchor="end">11</text><text x="1335.6" y="1691.5" font-size="14.5" fill="#4a4a4a" letter-spacing="-0.09">2020-Q3</text><text x="1672.43" y="1691.2" font-size="14.5" fill="#333" text-anchor="end">£18,000</text><text x="1795.76" y="1691.2" font-size="14.5" fill="#fff" text-anchor="end" stroke="#fff" stroke-width="0.3">£3,200</text><g stroke="#c8c8c8" stroke-width="1.1" fill="none"><ellipse cx="1914.39" cy="1686.5" rx="3.5" ry="3.6"/><line x1="1911.09" y1="1691.1" x2="1917.69" y2="1681.9"/></g><g stroke="#c8c8c8" stroke-width="1.1" fill="none"><ellipse cx="2037.72" cy="1686.5" rx="3.5" ry="3.6"/><line x1="2034.42" y1="1691.1" x2="2041.02" y2="1681.9"/></g><g stroke="#c8c8c8" stroke-width="1.1" fill="none"><ellipse cx="2161.05" cy="1686.5" rx="3.5" ry="3.6"/><line x1="2157.75" y1="1691.1" x2="2164.35" y2="1681.9"/></g><g stroke="#c8c8c8" stroke-width="1.1" fill="none"><ellipse cx="2284.38" cy="1686.5" rx="3.5" ry="3.6"/><line x1="2281.08" y1="1691.1" x2="2287.68" y2="1681.9"/></g><g stroke="#c8c8c8" stroke-width="1.1" fill="none"><ellipse cx="2408.8" cy="1686.5" rx="3.5" ry="3.6"/><line x1="2405.5" y1="1691.1" x2="2412.1" y2="1681.9"/></g><text x="1313.4" y="1726.77" font-size="14.5" fill="#c2c2c2" text-anchor="end">12</text><text x="1335.6" y="1726.77" font-size="14.5" fill="#4a4a4a" letter-spacing="-0.09">2020-Q4</text><text x="1672.43" y="1726.47" font-size="14.5" fill="#fff" text-anchor="end" stroke="#fff" stroke-width="0.3">£0</text><g stroke="#c8c8c8" stroke-width="1.1" fill="none"><ellipse cx="1791.06" cy="1721.77" rx="3.5" ry="3.6"/><line x1="1787.76" y1="1726.37" x2="1794.36" y2="1717.17"/></g><g stroke="#c8c8c8" stroke-width="1.1" fill="none"><ellipse cx="1914.39" cy="1721.77" rx="3.5" ry="3.6"/><line x1="1911.09" y1="1726.37" x2="1917.69" y2="1717.17"/></g><g stroke="#c8c8c8" stroke-width="1.1" fill="none"><ellipse cx="2037.72" cy="1721.77" rx="3.5" ry="3.6"/><line x1="2034.42" y1="1726.37" x2="2041.02" y2="1717.17"/></g><g stroke="#c8c8c8" stroke-width="1.1" fill="none"><ellipse cx="2161.05" cy="1721.77" rx="3.5" ry="3.6"/><line x1="2157.75" y1="1726.37" x2="2164.35" y2="1717.17"/></g><g stroke="#c8c8c8" stroke-width="1.1" fill="none"><ellipse cx="2284.38" cy="1721.77" rx="3.5" ry="3.6"/><line x1="2281.08" y1="1726.37" x2="2287.68" y2="1717.17"/></g><g stroke="#c8c8c8" stroke-width="1.1" fill="none"><ellipse cx="2408.8" cy="1721.77" rx="3.5" ry="3.6"/><line x1="2405.5" y1="1726.37" x2="2412.1" y2="1717.17"/></g></svg></section>
</body></html>
